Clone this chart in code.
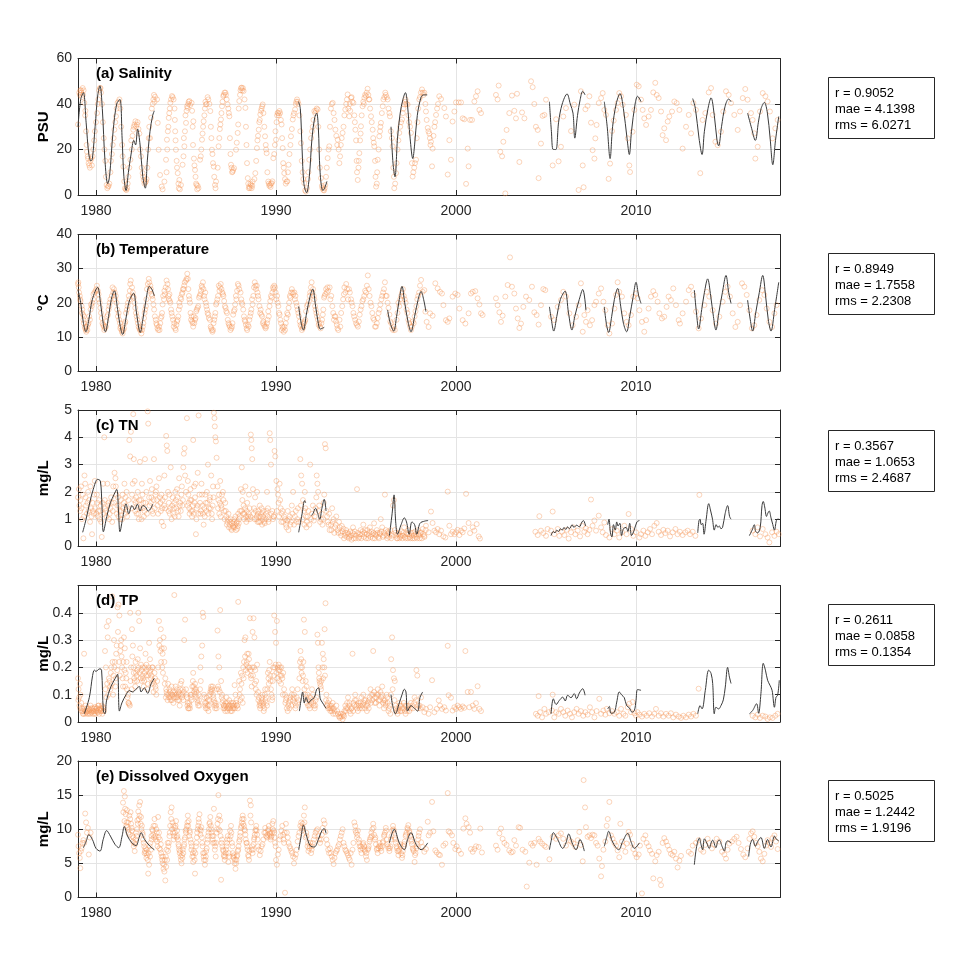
<!DOCTYPE html>
<html>
<head>
<meta charset="utf-8">
<script src="https://cdn.jsdelivr.net/npm/echarts@6/dist/echarts.min.js"></script>
<style>html,body{margin:0;padding:0;background:#fff}#chart{width:977px;height:977px}</style>
</head>
<body>
<div id="chart"></div>
<script>
// ---------------- DATA ----------------
const panelTitles = ['(a) Salinity', '(b) Temperature', '(c) TN', '(d) TP', '(e) Dissolved Oxygen'];
const yNames = ['PSU', '°C', 'mg/L', 'mg/L', 'mg/L'];
const yMaxs = [60, 40, 5, 0.5, 20];
const ySteps = [20, 10, 1, 0.1, 5];
const xTicks = [1980, 1990, 2000, 2010];
const xMin = 1979, xMax = 2018;
const statR = ['0.9052', '0.8949', '0.3567', '0.2611', '0.5025'];
const statMae = ['4.1398', '1.7558', '1.0653', '0.0858', '1.2442'];
const statRms = ['6.0271', '2.2308', '2.4687', '0.1354', '1.9196'];

// Salinity observations [year, PSU]
const salObs = [[1979.0,31],[1979.07,45],[1979.17,46],[1979.26,47],[1979.31,46],[1979.22,43],[1979.35,40.5],[1979.41,37],[1979.54,17],[1979.59,14],[1979.63,13],[1979.69,15],[1979.74,16],[1979.81,17],[1979.94,28],[1980.06,36],[1980.13,42],[1980.22,47],[1980.28,45],[1980.33,40],[1980.52,15],[1980.59,4.4],[1980.67,3.7],[1980.74,5],[1980.83,15],[1981.02,28.7],[1981.11,34.6],[1981.2,40.5],[1981.3,42],[1981.52,12.5],[1981.61,3],[1981.69,2.2],[1981.76,5],[1981.91,15.5],[1981.96,24],[1982.07,28.7],[1982.19,32.4],[1982.31,32],[1982.41,27],[1982.59,9.6],[1982.65,6.6],[1982.74,5.5],[1982.81,7],[1982.96,30],[1983.06,34],[1983.19,42],[1983.28,43.2],[1983.39,42],[1983.43,31.7],[1983.48,19.9],[1983.56,8.8],[1983.65,3.7],[1983.7,2.5],[1983.8,5.9],[1983.89,15.5],[1983.94,24.3],[1984.04,33.9],[1984.13,40.5],[1984.22,43.5],[1984.31,42],[1984.44,19.9],[1984.54,9.6],[1984.63,6.6],[1984.72,4.4],[1984.81,13.3],[1984.91,21.4],[1985.0,31.7],[1985.09,38.3],[1985.19,41.3],[1985.31,40.5],[1985.41,32.4],[1985.5,11],[1985.59,4.4],[1985.69,3],[1985.78,15.5],[1985.89,24.3],[1985.98,32.4],[1986.11,39.8],[1986.24,42],[1986.35,36.9],[1986.44,19.9],[1986.54,12.5],[1986.61,4.4],[1986.67,5.9],[1986.81,21.4],[1986.94,33.2],[1987.07,43.5],[1987.19,45],[1987.31,39.8],[1987.41,34.6],[1987.5,13.3],[1987.59,10.3],[1987.67,11.8],[1987.78,19.9],[1987.87,27.3],[1987.96,41.3],[1988.09,47.2],[1988.2,45.7],[1988.3,38.3],[1988.43,7.4],[1988.52,3.7],[1988.61,4.4],[1988.7,5.9],[1988.85,9.6],[1988.94,20.6],[1989.04,28.7],[1989.13,35.4],[1989.26,39.8],[1989.39,25.8],[1989.48,18.4],[1989.57,5.9],[1989.67,4.4],[1989.76,5.2],[1989.85,16.2],[1990.0,24.3],[1990.09,36.1],[1990.19,36.9],[1990.31,31],[1990.37,20.6],[1990.46,9.6],[1990.59,5.9],[1990.7,13.3],[1990.83,25.8],[1990.93,33.2],[1991.06,37.6],[1991.17,42],[1991.39,22.8],[1991.57,5.2],[1991.72,3],[1991.85,15.5],[1992.0,28],[1992.13,36.9],[1992.31,37.6],[1992.5,7.4],[1992.63,2.2],[1992.74,4.4],[1992.87,16.2],[1992.96,21.4],[1993.15,40.5],[1993.3,28.7],[1993.43,24.3],[1993.56,17],[1993.7,27.3],[1993.85,37.6],[1993.98,44.2],[1994.07,34.6],[1994.17,42.7],[1994.3,40.5],[1994.41,28.7],[1994.54,6.6],[1994.63,18.4],[1994.72,30.2],[1994.81,39],[1994.91,42.7],[1995.0,43.5],[1995.09,46.7],[1995.19,42],[1995.28,34.6],[1995.37,28.7],[1995.46,21.4],[1995.56,3.7],[1995.65,15.5],[1995.74,25.8],[1995.83,31.7],[1995.93,39],[1996.07,45],[1996.2,42],[1996.33,34.6],[1996.48,21.4],[1996.57,3],[1996.67,9.6],[1996.85,27.3],[1997.0,33.2],[1997.13,39.8],[1997.31,39.8],[1997.5,27.3],[1997.59,8.1],[1997.78,15.5],[1997.96,42],[1998.11,46.4],[1998.24,45],[1998.43,29.5],
[1998.33,36.7],[1998.52,27],[1998.61,23.4],[1998.7,20.4],[1998.67,12.6],[1998.89,35.2],[1999.07,43.4],[1999.17,42.2],[1999.35,38.2],[1999.44,34.5],[1999.54,9],[1999.63,24.1],[1999.72,15.5],[1999.81,32.3],[1999.91,36.7],[2000.0,40.7],[2000.15,40.7],[2000.28,40.7],[2000.37,33.7],[2000.46,33.3],[2000.56,4.9],[2000.65,20.4],[2000.7,12.6],[2000.78,33],[2000.89,33],[2001.02,41.1],[2001.11,43.4],[2001.2,45.6],[2001.3,37.4],[2001.39,36],[2002.22,44],[2002.31,42],[2002.37,48.1],[2002.46,19],[2002.56,17],[2002.63,23.4],[2002.74,0.7],[2002.81,28.6],[2002.96,36],[2003.11,43.7],[2003.24,37],[2003.33,33.7],[2003.39,44.5],[2003.52,14.5],[2003.67,36.3],[2003.8,33.7],[2004.17,50],[2004.26,47.4],[2004.35,40],[2004.44,30],[2004.54,28.6],[2004.59,7.4],[2004.72,22.6],[2004.81,34.8],[2004.91,35.2],[2005.0,41.9],[2005.37,13],[2005.56,33.3],[2005.7,14.8],[2005.83,21.2],[2005.96,34.5],[2006.11,38.2],[2006.39,28.1],[2006.57,39.7],[2006.81,2.2],[2006.94,45.6],[2007.04,13],[2007.09,3.4],[2007.19,37.7],[2007.31,39.2],[2007.41,43.4],[2007.5,31.8],[2007.59,19.7],[2007.69,16],[2007.74,24.9],[2007.81,30.8],[2007.93,40.4],[2008.06,42.6],[2008.15,44.8],[2008.24,37.4],[2008.33,35.2],[2008.48,7.1],[2008.56,13.8],[2008.67,28.1],[2008.76,32.7],[2008.89,37.4],[2008.98,40.4],[2009.07,44.8],[2009.17,43.4],[2009.26,39.7],[2009.44,35.2],[2009.54,24.9],[2009.63,13],[2009.67,10.1],[2009.81,27.8],[2009.91,37.4],[2010.04,48.5],[2010.15,47.8],[2010.28,41.9],[2010.37,37.4],[2010.46,33.7],[2010.56,30.8],[2010.7,34.5],[2010.83,37.4],[2010.96,45.1],[2011.07,49.3],[2011.15,44],[2011.26,42.6],[2011.39,36.7],[2011.48,26.3],[2011.57,29.3],[2011.67,24.1],[2011.76,32.3],[2011.85,34.5],[2012.0,36.7],[2012.13,41.1],[2012.26,40.4],[2012.41,37.4],[2012.59,20.4],[2012.78,30],[2012.93,35.2],[2013.06,27.1],[2013.19,40.4],[2013.33,37.4],[2013.57,9.6],[2013.7,33],[2013.85,36],[2014.04,45.1],[2014.17,47],[2014.26,35.2],[2014.41,23.4],[2014.54,21.9],[2014.72,27.8],[2014.85,36.7],[2015.0,45.6],[2015.15,44],[2015.28,40.4],[2015.46,35.2],[2015.65,28.6],[2015.78,36.7],[2015.93,42.6],[2016.07,46.6],[2016.2,41.9],[2016.39,36],[2016.48,33],[2016.57,27.1],[2016.63,16],[2016.76,21.2],[2016.89,36.7],[2017.04,44.8],[2017.19,43.4],[2017.31,41.1],[2017.44,36.7],[2017.59,24.9],[2017.74,29.3],[2017.87,33]];

// additional salinity observations (dense seasonal chains, 1979-1999)
const salObs2 = [[1979.1,44],[1979.13,46],[1979.19,45],[1979.28,44],[1979.4,35],[1979.45,28],[1979.48,22],[1979.5,19],[1979.56,16],[1979.66,12],[1979.77,13],[1979.85,20],[1979.9,24],[1980.0,32],[1980.1,40],[1980.18,46],[1980.25,47],[1980.38,32],[1980.43,25],[1980.47,20],[1980.55,8],[1980.63,3],[1980.7,4],[1980.8,10],[1980.88,18],[1980.93,22],[1980.98,25],[1981.07,32],[1981.15,38],[1981.25,41],[1981.35,38],[1981.4,30],[1981.45,22],[1981.48,17],[1981.57,6],[1981.65,2.5],[1981.73,3],[1981.8,8],[1981.85,12],[1981.99,20],[1982.03,26],[1982.1,30],[1982.14,31],[1982.23,30],[1982.27,31],[1982.36,29],[1982.45,20],[1982.5,17],[1982.54,12],[1982.62,8],[1982.69,5],[1982.77,6],[1982.85,12],[1982.9,20],[1982.93,25],
[1983.0,25],[1983.1,38],[1983.15,40],[1983.22,44],[1983.25,41],[1983.92,10],[1983.96,20],[1983.99,28],[1984.02,30],[1984.07,36],[1984.1,38],[1984.17,42],[1984.26,43],[1984.36,38],[1984.38,33],[1984.4,28],[1984.42,24],[1984.48,15],[1984.5,12],[1984.58,5],[1984.6,3],[1984.66,2.5],
[1984.86,17],[1984.88,25],[1984.94,28],[1984.97,35],[1985.03,37],[1985.06,39],[1985.12,40],[1985.15,41],[1985.23,39.5],[1985.34,37],[1985.37,30],[1985.39,22],[1985.44,16],[1985.47,13],[1985.53,8],[1985.56,5],[1985.62,2.5],[1985.65,4],
[1985.82,17],[1985.85,20],[1985.92,27],[1985.95,30],[1986.02,35],[1986.05,38],[1986.08,41],[1986.15,40],[1986.2,43],[1986.3,40],[1986.38,30],[1986.41,25],[1986.47,18],[1986.5,14],[1986.57,8],[1986.64,3],
[1986.76,12],[1986.85,25],[1986.88,29],[1986.91,31],[1986.97,36],[1987.0,39],[1987.03,41],[1987.1,44],[1987.14,45],[1987.22,44],[1987.26,42],[1987.35,38],[1987.38,36],[1987.44,25],[1987.47,18],[1987.53,12],[1987.56,10],[1987.62,11],
[1987.82,23],[1987.9,31],[1987.93,38],[1988.0,44],[1988.03,46],[1988.06,47],[1988.13,46],[1988.16,47],[1988.25,42],[1988.33,30],[1988.36,22],[1988.39,14],[1988.46,5],[1988.49,3],[1988.55,3],[1988.58,5],[1988.65,3],[1988.68,4],
[1988.8,7],[1988.9,15],[1988.97,24],[1989.0,26],[1989.07,32],[1989.1,33],[1989.17,37],[1989.2,38],[1989.23,39],[1989.3,36],[1989.35,30],[1989.43,22],[1989.45,20],[1989.52,10],[1989.6,5],[1989.63,4],[1989.7,3.5],[1989.72,5],[1989.8,6],
[1989.9,18],[1989.94,22],[1989.97,28],[1990.03,32],[1990.06,35],[1990.13,36],[1990.16,35],[1990.23,36],[1990.27,33],[1990.34,25],[1990.4,14],[1990.43,12],[1990.5,7],[1990.54,5],[1990.63,6],[1990.66,10],
[1990.75,18],[1990.8,22],[1990.88,29],[1990.97,35],[1991.0,36],[1991.1,40],[1991.13,41],[1991.21,41],[1991.25,40],[1991.3,35],[1991.35,28],[1991.43,15],[1991.48,10],[1991.52,7],[1991.62,2],[1991.66,1.5],[1991.77,7],[1991.8,10],
[1991.9,20],[1991.95,25],[1992.04,30],[1992.08,33],[1992.18,36],[1992.22,37],[1992.26,38],[1992.35,30],[1992.4,20],[1992.44,12],[1992.55,4],[1992.58,3],[1992.67,2],[1992.7,3],[1992.78,8],[1992.82,12],[1992.92,20],
[1993.0,30],[1993.05,38],[1993.1,40],[1993.2,36],[1993.25,33],[1993.35,26],[1993.4,22],[1993.48,20],[1993.52,14],[1993.6,22],[1993.65,25],[1993.75,30],[1993.8,35],[1993.9,40],[1993.94,42],
[1994.02,38],[1994.1,40],[1994.12,37],[1994.2,43],[1994.24,41],[1994.35,35],[1994.38,32],[1994.45,24],[1994.48,15],[1994.5,10],[1994.58,12],[1994.6,15],[1994.67,24],[1994.7,27],[1994.76,35],[1994.85,41],[1994.88,40],[1994.95,44],
[1995.04,45],[1995.13,44],[1995.16,42],[1995.23,38],[1995.32,32],[1995.4,25],[1995.43,23],[1995.5,15],[1995.53,8],[1995.6,5],[1995.62,10],[1995.7,20],[1995.78,28],[1995.8,30],[1995.88,36],[1995.97,42],[1996.02,43],
[1996.1,44],[1996.15,43],[1996.25,38],[1996.3,36],[1996.38,28],[1996.44,25],[1996.52,12],[1996.55,8],[1996.62,5],[1996.7,14],[1996.75,20],[1996.8,24],[1996.9,30],[1996.95,32],[1997.05,36],[1997.08,38],
[1997.17,41],[1997.2,42],[1997.25,40],[1997.36,35],[1997.4,32],[1997.45,30],[1997.55,14],[1997.63,10],[1997.68,12],[1997.72,14],[1997.82,25],[1997.86,32],[1997.9,38],[1998.0,43],
[1998.05,45],[1998.15,45],[1998.2,44],[1998.3,40],[1998.37,33],[1998.47,28],[1998.55,25],[1998.58,22],[1998.75,26],[1998.8,30],[1998.84,32],[1998.95,38],[1999.0,40]];

// Salinity model segments
const salModel = [
 [[1979.0,30],[1979.15,42],[1979.3,45],[1979.45,32],[1979.6,18],[1979.72,15],[1979.8,16],[1979.95,30],[1980.1,44],[1980.22,48],[1980.35,38],[1980.5,15],[1980.65,5],[1980.75,8],[1980.95,28],[1981.15,40],[1981.33,42],[1981.45,25],[1981.55,8],[1981.67,2],[1981.8,10],[1981.95,18],[1982.1,24],[1982.2,22],[1982.31,29],[1982.45,22],[1982.6,8],[1982.74,3],[1982.85,15],[1983.0,28],[1983.15,35],[1983.24,37]],
 [[1991.25,41],[1991.35,38],[1991.45,20],[1991.55,5],[1991.7,1],[1991.85,8],[1992.0,25],[1992.15,34],[1992.26,36],[1992.35,30],[1992.45,10],[1992.6,2],[1992.7,3],[1992.83,6]],
 [[1996.39,30],[1996.5,14],[1996.61,8],[1996.75,25],[1996.9,36],[1997.05,42],[1997.19,45],[1997.3,40],[1997.45,25],[1997.6,16],[1997.7,22],[1997.85,35],[1998.06,43],[1998.2,44],[1998.4,44]],
 [[2005.19,41],[2005.3,28],[2005.4,20],[2005.55,20],[2005.7,32],[2005.9,40],[2006.17,44.4],[2006.35,40],[2006.5,36],[2006.6,25],[2006.75,35],[2006.9,42],[2007.04,45.6],[2007.17,44]],
 [[2008.24,41],[2008.4,30],[2008.56,16],[2008.7,30],[2008.9,40],[2009.11,44.6],[2009.3,38],[2009.5,25],[2009.63,17.8],[2009.75,28],[2009.95,40],[2010.09,43.4],[2010.28,41]],
 [[2013.15,42.4],[2013.3,38],[2013.5,25],[2013.67,17.8],[2013.8,28],[2014.0,38],[2014.17,42.7],[2014.35,35],[2014.5,24],[2014.59,21.6],[2014.75,30],[2014.95,39],[2015.15,42.2],[2015.28,41]],
 [[2016.2,36],[2016.4,30],[2016.63,24],[2016.8,32],[2016.95,38],[2017.13,40.7],[2017.3,36],[2017.45,25],[2017.6,13.3],[2017.75,24],[2017.93,34.5]]
];

// Temperature observations [year, °C]
const tempObs = [[1979.0,25.5],[1979.02,26],[1979.04,24.5],[1979.1,22],[1979.12,21],[1979.2,19],[1979.22,17],[1979.3,15],[1979.32,14],[1979.34,16],[1979.44,12],[1979.46,11.5],[1979.48,13],[1979.58,14],[1979.62,16],[1979.7,18],[1979.72,19.5],[1979.84,21],[1979.86,22.5],[1979.98,23.5],[1980.02,24],[1980.14,22.5],[1980.16,21],[1980.28,17],[1980.32,15.5],[1980.44,13],[1980.46,12],[1980.58,14.5],[1980.62,16],[1980.74,19],[1980.76,20],[1980.88,22],[1980.92,24.5],[1981.04,23],[1981.06,21],[1981.18,18],[1981.22,16],[1981.33,14],[1981.35,12.5],[1981.37,13],[1981.48,11],[1981.52,12],[1981.63,14.5],[1981.67,17],[1981.78,20],[1981.82,22],[1981.88,23.5],[1981.9,25.5],[1981.93,26.5],[1982.04,23],[1982.06,22],[1982.18,18.5],[1982.22,17],[1982.33,14],[1982.37,13],[1982.48,12],[1982.52,11],[1982.63,14],[1982.67,15.5],[1982.77,19],[1982.8,21],[1982.83,24],[1982.93,27],[1982.96,26],[1982.99,23.5],[1983.08,22.5],[1983.12,22],[1983.23,18],[1983.27,16],[1983.38,13.5],[1983.42,12.5],[1983.53,12],[1983.57,14],[1983.67,17],[1983.7,19.5],[1983.73,22],[1983.83,22.5],[1983.87,24.5],[1983.97,25.5],[1984.0,24],[1984.03,22],[1984.05,21],[1984.13,20],[1984.17,18],[1984.28,15],[1984.32,13],[1984.43,12],[1984.47,13.5],[1984.57,16],[1984.6,18],[1984.63,20],[1984.73,21],[1984.77,22.5],[1984.87,24],[1984.9,25],[1984.93,26],[1985.07,28.5],[1985.1,27],[1985.13,24],[1985.22,20],[1985.25,17],[1985.28,15],[1985.37,14],[1985.4,13],[1985.43,16],[1985.53,15.5],[1985.57,17.5],[1985.68,19],[1985.72,21.5],[1985.83,23.5],[1985.87,25],[1985.97,24],[1986.0,22],[1986.03,21],[1986.13,19],[1986.17,18],[1986.33,15],[1986.37,13],[1986.47,11.5],[1986.5,12],[1986.53,14],[1986.63,17],[1986.67,19.5],[1986.78,22],[1986.82,25],[1986.93,25.5],[1986.97,24],[1987.08,22],[1987.12,20.5],[1987.28,17],[1987.32,15],[1987.43,13],[1987.47,12],[1987.58,14],[1987.62,16.5],[1987.73,19.5],[1987.77,22],[1987.88,25.5],[1987.92,25],[1988.03,23],[1988.07,21],[1988.18,18],[1988.22,16],[1988.33,13.5],[1988.37,12.5],[1988.48,13],[1988.52,15],[1988.63,18],[1988.67,21],[1988.78,24.5],[1988.82,26],[1988.93,25],[1988.97,23],[1989.08,19],[1989.12,17],[1989.23,16],[1989.27,14],[1989.38,13],[1989.42,12.5],[1989.53,15],[1989.57,17.5],[1989.68,20.5],[1989.72,22],[1989.83,24.5],[1989.87,24],[1989.98,23],[1990.02,21],[1990.13,19],[1990.17,17],[1990.28,14],[1990.32,12],[1990.43,11.5],[1990.47,13],[1990.58,15.5],[1990.62,17],[1990.73,20],[1990.77,22],[1990.88,24],[1990.92,23],[1991.08,22],[1991.12,20],[1991.28,16],[1991.32,14.5],[1991.48,12.5],[1991.52,13],[1991.63,15],[1991.67,17.5],[1991.83,20.5],[1991.87,22],[1991.98,26],[1992.02,23],[1992.13,21],[1992.17,19],[1992.33,15],[1992.37,13.5],[1992.48,12.5],[1992.52,14],[1992.63,18],[1992.67,21.5],[1992.78,24],[1992.82,23],[1992.98,24.5],[1993.02,21],[1993.18,17],[1993.22,15],[1993.38,13.5],[1993.42,12.5],[1993.53,15],[1993.57,13],[1993.73,21],[1993.77,22.5],[1993.8,24.5],[1993.95,24],[1994.1,23],[1994.25,19],[1994.4,15],[1994.5,13.5],[1994.6,14.5],[1994.75,19],[1994.9,22],[1995.05,25],[1995.1,28],[1995.2,22],[1995.35,17],[1995.5,13],[1995.6,14],[1995.75,18],[1995.9,22],[1996.05,26],[1996.2,20],[1996.3,16.5],[1996.45,12.5],[1996.6,12],[1996.75,17],[1996.9,21],[1997.05,24],[1997.2,20],[1997.35,15],[1997.5,12],[1997.65,14],[1997.8,19],[1997.95,23],[1993.3,16],[1994.0,21],[1994.3,17],[1994.55,13],[1994.85,21],[1995.0,23],[1995.25,20],[1995.45,15],[1995.55,13],[1995.85,21],[1996.0,24],[1996.1,22],[1996.4,14],[1996.85,19],[1997.0,23],[1997.3,17],[1997.45,13],[1997.7,16],[1997.85,21],
[1998.06,26.7],[1998.15,23.2],[1998.24,23.7],[1998.3,17.4],[1998.37,14.4],[1998.48,12.9],[1998.56,16.9],[1998.7,16.2],[1998.85,25.7],[1998.98,24.2],[1999.11,23.2],[1999.22,22.7],[1999.3,19.3],[1999.44,14.9],[1999.54,14.4],[1999.63,15.4],[1999.81,21.8],[1999.96,22.7],[2000.09,22.3],[2000.19,18.3],[2000.37,14.9],[2000.52,13.9],[2000.7,16.9],[2000.83,22.7],[2000.93,23.2],[2001.07,23.4],[2001.2,21.3],[2001.3,19.5],[2001.39,16.9],[2001.48,16.4],[2002.22,21.3],[2002.31,19.3],[2002.41,17.2],[2002.5,14.4],[2002.59,16.2],[2002.74,21.8],[2002.87,25.2],[2003.0,33.3],[2003.11,24.7],[2003.24,22.7],[2003.33,18.3],[2003.43,15.4],[2003.52,12.6],[2003.61,13.9],[2003.74,18.8],[2003.89,21.8],[2004.07,20.8],[2004.22,24.7],[2004.35,17.2],[2004.48,16.4],[2004.59,13.6],[2004.72,19.3],[2004.85,24],[2004.96,23.7],[2005.28,15.9],[2005.46,14.9],[2005.65,18.8],[2005.83,20.8],[2005.96,23.2],[2006.11,21.8],[2006.3,16.9],[2006.48,13.4],[2006.67,15.9],[2006.81,19.3],[2006.94,25.7],[2007.04,11.5],[2007.13,16.4],[2007.22,14.4],[2007.31,17.8],[2007.44,13.4],[2007.56,14.9],[2007.69,19.3],[2007.78,20.3],[2007.93,22.7],[2008.06,24.2],[2008.19,20.3],[2008.3,17.8],[2008.43,13.4],[2008.52,11],[2008.67,13.9],[2008.8,18.3],[2008.89,22.3],[2008.98,26],[2009.07,23.2],[2009.22,21.8],[2009.35,16.9],[2009.48,14.4],[2009.59,13.4],[2009.72,16.4],[2009.85,21.8],[2010.0,22.7],[2010.09,21.3],[2010.19,17.8],[2010.33,14.4],[2010.46,11.5],[2010.56,14.9],[2010.7,18.3],[2010.83,21.8],[2010.96,23.4],[2011.07,22.3],[2011.2,20.3],[2011.3,16.9],[2011.44,15.4],[2011.57,15.9],[2011.7,18.8],[2011.81,21.8],[2011.94,20.8],[2012.07,24.2],[2012.22,19.3],[2012.37,14.9],[2012.44,13.9],[2012.59,16.9],[2012.78,20.3],[2012.93,23.7],[2013.06,24.7],[2013.19,22.3],[2013.33,17.4],[2013.48,12.5],[2013.61,15.4],[2013.8,19.3],[2013.93,23.2],[2014.07,21.8],[2014.26,17.8],[2014.44,13.9],[2014.63,15.9],[2014.81,20.3],[2014.96,23.2],[2015.09,24.7],[2015.22,21.8],[2015.37,16.9],[2015.52,12.9],[2015.65,14.4],[2015.78,19.3],[2015.89,25.7],[2016.02,24.7],[2016.15,22.3],[2016.3,17.8],[2016.44,12.5],[2016.57,13.4],[2016.7,16.4],[2016.85,20.8],[2017.0,23.7],[2017.13,22.3],[2017.26,18.3],[2017.41,14.4],[2017.56,12.9],[2017.69,16.9],[2017.81,19.3]];

// additional temperature observations (dense band, 1979-1998)
const tempObs2 = [[1979.06,23],[1979.14,20.5],[1979.24,18],[1979.28,16.5],[1979.38,13],[1979.4,12.5],[1979.52,12],[1979.55,13.5],[1979.66,15],[1979.76,19],[1979.8,20],[1979.92,23],
[1980.05,25],[1980.1,23.5],[1980.2,20],[1980.24,18.5],[1980.36,14],[1980.4,13.5],[1980.5,12.5],[1980.55,13],[1980.66,16.5],[1980.7,18],[1980.8,21],[1980.96,23],
[1981.0,24],[1981.1,22],[1981.14,20],[1981.26,17],[1981.29,15],[1981.42,12],[1981.44,11.5],[1981.56,12.5],[1981.6,14],[1981.72,18],[1981.75,19],[1981.86,21],
[1982.0,24.5],[1982.1,21.5],[1982.14,20],[1982.26,16],[1982.3,15],[1982.41,12.5],[1982.44,12],[1982.56,12],[1982.6,13],[1982.7,17],[1982.73,18],[1982.88,25.5],
[1983.02,25],[1983.05,24],[1983.15,21],[1983.19,19.5],[1983.32,15],[1983.35,14],[1983.46,12],[1983.5,13],[1983.6,15.5],[1983.64,16],[1983.78,21],[1983.8,23.5],[1983.92,26.5],
[1984.08,22.5],[1984.1,20.5],[1984.2,17],[1984.24,16],[1984.35,14],[1984.4,12.5],[1984.5,14.5],[1984.53,15],[1984.66,19],[1984.7,21.5],[1984.8,23],[1984.83,24],
[1985.0,26.5],[1985.03,27],[1985.16,22],[1985.19,21],[1985.31,16],[1985.34,14.5],[1985.46,14],[1985.5,15],[1985.6,18],[1985.64,18.5],[1985.76,22],[1985.8,22.5],[1985.9,24.5],[1985.94,26],
[1986.07,23],[1986.1,20],[1986.2,17],[1986.24,16.5],[1986.27,15.5],[1986.4,12.5],[1986.43,12],[1986.57,15],[1986.6,16],[1986.7,20],[1986.74,21],[1986.86,23.5],[1986.89,24.5],
[1987.02,23],[1987.05,22.5],[1987.16,19],[1987.2,18.5],[1987.24,17.5],[1987.36,14],[1987.4,13.5],[1987.52,12.5],[1987.55,13],[1987.66,17.5],[1987.7,18],[1987.8,21],[1987.84,23.5],[1987.96,24],
[1988.1,20],[1988.13,19.5],[1988.26,15],[1988.29,14.5],[1988.4,12],[1988.44,13.5],[1988.56,16],[1988.6,17],[1988.7,19.5],[1988.74,22],[1988.86,25],[1988.89,24],
[1989.0,22],[1989.03,21],[1989.15,18],[1989.19,16.5],[1989.3,14.5],[1989.34,13.5],[1989.46,13],[1989.5,14],[1989.6,16],[1989.64,19],[1989.76,21.5],[1989.8,23],[1989.9,25],[1989.94,24.5],
[1990.06,22],[1990.09,20],[1990.2,16.5],[1990.24,15],[1990.36,13],[1990.39,12.5],[1990.5,12],[1990.54,14],[1990.66,16.5],[1990.7,18.5],[1990.8,21.5],[1990.84,23],[1990.96,22.5],
[1991.02,23],[1991.05,21],[1991.16,19],[1991.2,18],[1991.24,17],[1991.36,13.5],[1991.4,13],[1991.44,12],[1991.56,14],[1991.6,14.5],[1991.72,19],[1991.76,19.5],[1991.9,23],[1991.94,24.5],
[1992.06,24],[1992.1,22],[1992.2,18],[1992.24,17],[1992.28,16],[1992.4,14],[1992.44,13],[1992.56,15],[1992.6,16.5],[1992.7,22],[1992.74,22.5],[1992.86,24.5],[1992.9,23.5],
[1993.07,22],[1993.13,19],[1993.26,16],[1993.34,14.5],[1993.46,12],[1993.62,17],[1993.68,19],[1993.86,23],[1993.9,25.5],[1994.05,24],[1994.17,21],[1994.2,20],[1994.34,16],[1994.45,14],[1994.65,16.5],[1994.7,18],[1994.8,20.5],[1994.95,23.5],[1995.15,24],[1995.3,19],[1995.4,15.5],[1995.65,15.5],[1995.7,17],[1995.8,19.5],[1995.95,23],[1996.15,22],[1996.25,18.5],[1996.35,14.5],[1996.5,12],[1996.55,13],[1996.7,15],[1996.8,20],[1996.95,22],[1997.1,22],[1997.15,21],[1997.25,18],[1997.4,14],[1997.55,13],[1997.6,14.5],[1997.75,17.5],[1997.9,22],[1998.0,25]];

const tempModel = [
 [[1979.0,23.8],[1979.15,20],[1979.3,14],[1979.44,11.5],[1979.6,15],[1979.8,21],[1980.09,24.5],[1980.25,20],[1980.4,14],[1980.52,11.5],[1980.7,16],[1980.85,21],[1981.02,23.5],[1981.2,18],[1981.35,13],[1981.48,10.7],[1981.65,15],[1981.85,20.5],[1982.09,22.8],[1982.25,17],[1982.46,11.3],[1982.6,15],[1982.8,21.5],[1982.96,24.8],[1983.1,24],[1983.24,22]],
 [[1991.26,18.9],[1991.4,14],[1991.52,12],[1991.7,17],[1991.9,22],[1992.04,24],[1992.2,19],[1992.35,14],[1992.46,12.3],[1992.68,12.8]],
 [[1996.2,17.9],[1996.35,14],[1996.54,11.7],[1996.7,16],[1996.85,21],[1997.0,24.8],[1997.15,20],[1997.35,14],[1997.5,11.5],[1997.7,16],[1997.9,21],[1998.06,23.3],[1998.2,21],[1998.33,17.4]],
 [[2005.19,18.8],[2005.3,15],[2005.43,11.7],[2005.6,16],[2005.8,21],[2006.06,23.4],[2006.25,17],[2006.44,12],[2006.6,16],[2006.85,21],[2007.04,23.9],[2007.22,17.8]],
 [[2008.24,18.8],[2008.35,14],[2008.48,11.3],[2008.65,16],[2008.8,21],[2008.98,24.2],[2009.15,19],[2009.3,14],[2009.48,11.5],[2009.65,16],[2009.85,22],[2010.0,26],[2010.15,22],[2010.28,19.8]],
 [[2013.24,23.7],[2013.36,17],[2013.48,12.3],[2013.65,18],[2013.8,23],[2013.98,27],[2014.15,22],[2014.3,16],[2014.44,12],[2014.6,17],[2014.8,23],[2015.0,28],[2015.15,23],[2015.28,19.8]],
 [[2016.2,20.8],[2016.35,15],[2016.48,11.7],[2016.65,17],[2016.85,23],[2017.04,28],[2017.2,22],[2017.35,15],[2017.5,11.7],[2017.7,18],[2017.93,26]]
];

// TN observations [year, mg/L]
const tnObs = [[1979.0,1.8],[1979.05,2.1],[1979.08,1.5],[1979.12,1.3],[1979.17,2.2],[1979.22,1.0],[1979.27,1.9],[1979.3,0.3],[1979.36,2.6],[1979.4,2.3],[1979.45,1.5],[1979.5,1.2],[1979.56,2.0],[1979.62,1.7],[1979.67,0.9],[1979.72,1.4],[1979.78,0.45],[1979.84,1.3],[1979.9,1.9],[1979.95,1.4],[1980.02,1.2],[1980.07,1.6],[1980.13,1.3],[1980.2,1.0],[1980.26,1.5],[1980.32,0.35],[1980.4,2.3],[1980.46,4.0],[1980.52,1.4],[1980.58,1.1],[1980.63,2.3],[1980.7,1.6],[1980.76,1.2],[1980.84,1.8],[1980.9,0.9],[1980.96,2.2],[1981.03,2.7],[1981.08,2.5],[1981.13,1.9],[1981.19,1.5],[1981.25,1.1],[1981.31,1.3],[1981.38,1.7],[1981.45,1.0],[1981.52,1.4],[1981.58,2.3],[1981.64,1.8],[1981.7,2.0],[1981.77,1.3],[1981.85,3.9],[1981.9,3.3],[1981.94,4.2],[1982.0,1.9],[1982.07,4.85],[1982.1,3.2],[1982.15,2.4],[1982.2,1.6],[1982.26,1.2],[1982.32,2.0],[1982.38,1.0],[1982.44,3.1],[1982.5,1.7],[1982.55,2.3],[1982.6,1.4],[1982.66,1.1],[1982.72,3.2],[1982.8,2.0],[1982.87,4.95],[1982.9,4.5],[1982.95,1.8],[1983.0,2.4],[1983.05,1.6],[1983.1,2.1],[1983.17,1.2],[1983.22,3.2],[1983.3,1.9],[1983.36,2.2],[1983.42,1.5],[1983.5,2.5],[1983.55,1.8],[1983.6,1.3],[1983.65,0.9],[1983.7,1.7],[1983.75,0.75],[1983.8,2.6],[1983.85,1.4],[1983.9,4.05],[1983.93,3.7],[1983.96,3.5],[1984.0,2.0],[1984.05,1.6],[1984.1,1.2],[1984.15,2.9],[1984.2,1.0],[1984.26,1.8],[1984.32,1.4],[1984.38,1.1],[1984.44,1.7],[1984.5,2.1],[1984.56,1.3],[1984.62,2.5],[1984.68,1.6],[1984.74,1.9],[1984.8,1.5],[1984.85,2.9],[1984.88,3.4],[1984.92,3.6],[1984.95,2.6],[1985.0,2.0],[1985.05,4.7],[1985.1,2.4],[1985.15,1.6],[1985.2,1.2],[1985.25,2.1],[1985.3,1.7],[1985.35,1.3],[1985.4,3.9],[1985.45,2.2],[1985.5,1.8],[1985.55,0.45],[1985.6,1.4],[1985.65,2.7],[1985.7,4.8],[1985.75,1.9],[1985.8,1.2],[1985.86,2.3],[1985.92,1.5],[1985.98,0.8],[1986.04,1.1],[1986.1,1.6],[1986.16,2.0],[1986.22,3.0],[1986.28,1.4],[1986.34,1.8],[1986.4,2.6],[1986.45,1.0],[1986.5,2.2],[1986.55,4.9],[1986.58,4.7],[1986.6,4.4],[1986.63,4.0],[1986.66,3.85],[1986.7,3.25],[1986.75,2.2],[1986.8,1.7],[1986.85,1.2],[1986.9,2.4],[1986.95,1.5],[1987.0,1.9],[1987.05,2.0],[1987.12,1.3],[1987.18,1.6],[1987.24,1.1],[1987.3,0.9],[1987.36,1.2],[1987.42,0.8],[1987.48,1.0],[1987.54,0.6],[1987.6,0.75],[1987.65,0.9],[1987.7,0.7],[1987.75,1.1],[1987.8,0.85],[1987.85,0.65],[1987.9,1.2],[1987.95,1.0],[1988.0,1.3],[1988.05,2.1],[1988.1,2.9],[1988.15,2.0],[1988.2,1.5],[1988.25,1.2],[1988.3,2.2],[1988.35,0.9],[1988.4,1.6],[1988.45,1.1],[1988.5,1.9],[1988.55,1.0],[1988.6,4.1],[1988.63,3.9],[1988.65,3.6],[1988.68,3.2],[1988.72,2.1],[1988.78,1.4],[1988.84,1.8],[1988.9,1.0],[1988.95,2.0],[1989.0,1.2],[1989.05,0.9],[1989.1,1.5],[1989.15,1.1],[1989.2,1.4],[1989.25,1.0],[1989.3,1.3],[1989.38,0.85],[1989.45,1.2],[1989.5,2.0],[1989.55,1.4],[1989.6,1.0],[1989.65,4.15],[1989.68,3.9],[1989.72,3.0],[1989.8,1.3],[1989.86,1.1],[1989.92,3.5],[1989.96,3.3],[1990.02,2.4],[1990.08,2.1],[1990.14,1.6],[1990.2,2.3],[1990.26,1.4],[1990.32,1.2],[1990.4,0.9],[1990.5,1.0],[1990.58,0.7],[1990.65,1.3],[1990.72,1.0],[1990.8,0.8],[1990.88,1.5],[1990.95,2.0],[1991.05,1.1],[1991.15,0.9],[1991.22,1.4],[1991.35,3.2],[1991.4,2.6],[1991.45,2.3],[1991.5,1.7],[1991.55,1.3],[1991.6,2.0],[1991.66,1.1],[1991.72,0.9],[1991.8,1.3],[1991.9,3.0],[1992.0,1.2],[1992.1,0.95],[1992.2,1.4],[1992.26,2.6],[1992.3,2.3],[1992.34,2.0],[1992.4,1.5],[1992.5,1.0],[1992.58,0.8],[1992.65,1.6],[1992.72,3.75],[1992.76,3.6],[1992.8,1.3],[1992.88,0.9],[1992.95,1.2],[1993.05,0.8],[1993.12,1.4],[1993.2,1.0],[1993.28,0.7],[1993.35,1.1],[1993.42,0.6],[1993.5,0.9],[1993.58,0.5],[1993.66,0.75],[1993.75,0.65],[1993.82,0.4],[1993.9,0.6],[1993.98,0.5],[1994.05,0.3],[1994.12,0.55],[1994.2,0.25],[1994.28,0.7],[1994.35,0.45],[1994.42,0.3],[1994.5,2.1],[1994.55,0.5],[1994.62,0.35],[1994.7,0.6],[1994.78,0.45],[1994.85,0.8],[1994.92,0.5],[1995.0,0.3],[1995.08,0.6],[1995.15,0.4],[1995.22,0.7],[1995.3,0.55],[1995.38,0.3],[1995.45,0.85],[1995.52,0.45],[1995.6,0.6],[1995.68,0.35],[1995.75,0.5],[1995.82,1.0],[1995.9,0.7],[1995.98,0.4],[1996.05,1.9],[1996.1,0.6],[1996.18,0.3],[1996.25,0.5],[1996.32,0.45],[1996.4,0.3],[1996.5,1.5],[1996.55,1.7],[1996.6,0.6],[1996.68,0.4],[1996.75,0.3],[1996.82,0.5],[1996.9,0.35],[1996.98,0.55],[1997.05,0.4],[1997.12,0.7],[1997.2,0.3],[1997.28,0.45],[1997.35,0.6],[1997.42,0.35],[1997.5,0.5],[1997.58,0.3],[1997.65,0.4],[1997.72,0.55],[1997.8,0.35],[1997.88,0.6],[1997.95,0.4],[1998.02,0.5],[1998.1,0.3],[1998.18,0.45],[1998.25,0.35],[1998.32,0.6],
[1998.06,0.52],[1998.15,0.64],[1998.24,0.39],[1998.33,0.76],[1998.48,0.52],[1998.61,1.28],[1998.7,0.86],[1998.8,0.58],[1998.89,0.52],[1998.98,0.64],[1999.07,0.45],[1999.17,0.58],[1999.3,0.37],[1999.41,0.33],[1999.54,2.01],[1999.63,0.76],[1999.72,0.45],[1999.81,0.54],[1999.91,0.45],[2000.0,0.52],[2000.09,0.61],[2000.19,0.42],[2000.28,0.58],[2000.37,0.52],[2000.46,0.66],[2000.56,1.93],[2000.7,0.86],[2000.78,0.49],[2000.93,0.7],[2001.02,0.58],[2001.15,0.82],[2001.26,0.37],[2001.33,0.29],[2004.41,0.54],[2004.54,0.42],[2004.63,1.11],[2004.72,0.58],[2004.85,0.49],[2005.0,0.39],[2005.09,0.64],[2005.28,0.58],[2005.37,1.28],[2005.46,0.45],[2005.65,0.64],[2005.74,0.39],[2005.89,0.54],[2006.02,0.42],[2006.15,0.61],[2006.26,0.29],[2006.39,0.52],[2006.52,0.7],[2006.63,0.45],[2006.76,0.58],[2006.89,0.37],[2007.0,0.76],[2007.13,0.54],[2007.22,0.66],[2007.31,0.45],[2007.41,0.61],[2007.5,1.72],[2007.59,0.76],[2007.69,0.95],[2007.78,0.58],[2007.93,1.13],[2008.06,0.7],[2008.15,0.52],[2008.24,0.88],[2008.33,0.42],[2008.52,0.33],[2008.67,0.64],[2008.8,0.45],[2008.93,0.58],[2009.07,0.33],[2009.22,0.52],[2009.35,0.76],[2009.48,0.45],[2009.59,1.19],[2009.72,0.64],[2009.85,0.39],[2010.0,0.52],[2010.19,0.33],[2010.28,0.45],[2010.41,0.58],[2010.52,0.39],[2010.65,0.52],[2010.78,0.64],[2010.89,0.45],[2011.02,0.76],[2011.15,0.86],[2011.26,0.54],[2011.39,0.42],[2011.52,0.61],[2011.63,0.49],[2011.76,0.58],[2011.89,0.37],[2012.04,0.52],[2012.19,0.64],[2012.31,0.45],[2012.44,0.54],[2012.59,0.42],[2012.74,0.52],[2012.87,0.58],[2013.0,0.45],[2013.15,0.54],[2013.3,0.39],[2013.52,1.89],[2016.48,0.58],[2016.63,0.45],[2016.76,0.7],[2016.89,0.37],[2017.04,0.64],[2017.19,0.45],[2017.31,0.33],[2017.41,0.15],[2017.56,0.52],[2017.69,0.39],[2017.81,0.54],[2017.93,0.45]];

// additional TN observations (dense 1979-1998)
const tnObs2 = [[1979.13,1.7],[1979.19,1.4],[1979.33,1.1],[1979.42,1.8],[1979.53,1.6],[1979.59,1.3],[1979.69,2.2],[1979.75,1.1],[1979.81,1.6],[1979.87,1.2],[1979.93,2.4],[1980.05,1.9],[1980.1,1.1],[1980.17,1.7],[1980.23,1.3],[1980.29,0.9],[1980.37,1.6],[1980.43,1.2],[1980.49,1.7],[1980.55,1.3],[1980.66,1.5],[1980.73,1.0],[1980.8,1.4],[1980.87,1.6],[1980.93,1.3],[1981.0,1.6],[1981.1,2.2],[1981.16,1.2],[1981.22,1.8],[1981.28,1.5],[1981.34,1.0],[1981.42,1.3],[1981.48,1.9],[1981.55,1.6],[1981.61,1.2],[1981.67,1.5],[1981.73,1.1],[1981.8,1.7],[1981.97,1.4],[1982.04,2.3],[1982.12,1.7],[1982.18,1.3],[1982.23,1.8],[1982.29,1.5],[1982.35,1.2],[1982.41,1.7],[1982.47,1.4],[1982.53,1.0],[1982.58,1.9],[1982.63,1.6],[1982.69,1.3],[1982.75,1.6],[1982.83,1.2],[1982.98,1.5],[1983.08,1.8],[1983.13,1.3],[1983.2,1.7],[1983.26,1.4],[1983.33,2.0],[1983.39,1.7],[1983.45,1.2],[1983.58,1.6],[1983.63,1.9],[1983.68,1.4],[1983.78,1.5],[1983.83,1.8],[1984.03,1.3],[1984.08,1.9],[1984.13,1.4],[1984.23,1.5],[1984.29,1.2],[1984.35,1.6],[1984.41,2.0],[1984.47,1.4],[1984.53,1.8],[1984.59,1.1],[1984.65,1.5],[1984.71,1.3],[1984.77,2.2],[1984.83,1.7],[1985.08,1.5],[1985.13,1.9],[1985.18,1.4],[1985.23,1.7],[1985.28,1.3],[1985.33,1.1],[1985.38,1.5],[1985.43,1.2],[1985.48,1.6],[1985.53,2.3],[1985.58,1.0],[1985.63,1.5],[1985.68,1.2],[1985.78,1.6],[1985.84,1.3],[1985.89,1.9],[1985.95,1.2],[1986.02,1.4],[1986.07,1.9],[1986.13,1.3],[1986.19,1.6],[1986.25,1.2],[1986.31,1.7],[1986.37,1.4],[1986.43,1.2],[1986.48,1.5],[1986.53,1.8],[1986.78,1.4],[1986.83,1.9],[1986.88,1.6],[1986.93,1.1],[1986.98,1.4],[1987.08,1.7],[1987.15,1.0],[1987.21,1.3],[1987.27,0.8],[1987.33,1.0],[1987.39,0.7],[1987.45,0.9],[1987.51,0.65],[1987.57,0.85],[1987.63,0.7],[1987.68,1.0],[1987.73,0.8],[1987.78,0.6],[1987.83,0.9],[1987.88,0.75],[1987.93,0.85],[1987.98,1.1],[1988.08,1.3],[1988.13,1.7],[1988.18,1.2],[1988.23,1.0],[1988.28,1.4],[1988.33,1.1],[1988.38,1.3],[1988.43,1.0],[1988.48,1.2],[1988.53,1.4],[1988.58,1.1],[1988.75,1.2],[1988.81,1.0],[1988.87,1.3],[1988.93,1.1],[1988.98,0.9],[1989.03,1.3],[1989.08,1.1],[1989.13,0.9],[1989.18,1.2],[1989.23,0.8],[1989.28,1.1],[1989.33,0.9],[1989.43,1.0],[1989.48,1.3],[1989.53,1.1],[1989.58,0.9],[1989.75,1.2],[1989.83,1.0],[1989.88,1.1],[1990.05,1.3],[1990.11,1.9],[1990.17,1.1],[1990.23,1.7],[1990.3,0.9],[1990.36,1.3],[1990.45,1.1],[1990.55,0.8],[1990.62,0.95],[1990.69,0.6],[1990.76,1.1],[1990.84,0.9],[1990.92,1.2],[1991.0,0.8],[1991.1,1.3],[1991.18,1.0],[1991.28,0.9],[1991.38,1.5],[1991.48,1.0],[1991.58,0.8],[1991.63,1.4],[1991.69,0.7],[1991.76,1.1],[1991.85,0.8],[1991.95,1.0],[1992.05,1.5],[1992.15,1.1],[1992.24,1.8],[1992.37,1.3],[1992.45,0.9],[1992.53,1.2],[1992.62,1.0],[1992.68,1.9],[1992.84,1.1],[1992.92,0.8],[1992.98,0.6],
[1993.08,0.6],[1993.16,0.9],[1993.24,0.5],[1993.32,0.8],[1993.46,0.5],[1993.54,0.7],[1993.62,0.4],[1993.7,0.55],[1993.78,0.3],[1993.86,0.5],[1993.94,0.35],[1994.02,0.45],[1994.09,0.35],[1994.16,0.4],[1994.24,0.5],[1994.31,0.3],[1994.38,0.55],[1994.46,0.4],[1994.59,0.3],[1994.66,0.45],[1994.74,0.3],[1994.81,0.55],[1994.89,0.35],[1994.96,0.6],[1995.04,0.45],[1995.12,0.3],[1995.19,0.5],[1995.26,0.35],[1995.34,0.45],[1995.42,0.5],[1995.49,0.3],[1995.56,0.4],[1995.64,0.5],[1995.72,0.3],[1995.79,0.45],[1995.86,0.55],[1995.94,0.35],[1996.02,0.5],[1996.14,0.4],[1996.21,0.55],[1996.28,0.35],[1996.36,0.6],[1996.44,0.4],[1996.64,0.5],[1996.71,0.3],[1996.78,0.45],[1996.86,0.3],[1996.94,0.4],[1997.02,0.3],[1997.08,0.5],[1997.16,0.35],[1997.24,0.5],[1997.32,0.3],[1997.38,0.45],[1997.46,0.3],[1997.54,0.4],[1997.62,0.5],[1997.68,0.3],[1997.76,0.45],[1997.84,0.3],[1997.92,0.45],[1997.98,0.3]];

const tnModel = [
 [[1979.26,0.52],[1979.45,1.0],[1979.65,1.6],[1979.85,2.1],[1980.09,2.46],[1980.24,2.4],[1980.33,1.5],[1980.41,0.54],[1980.6,1.1],[1980.8,1.6],[1981.0,1.9],[1981.15,2.09],[1981.25,1.3],[1981.33,0.54],[1981.5,1.1],[1981.67,1.56],[1981.82,1.2],[1982.0,1.5],[1982.15,1.35],[1982.3,1.55],[1982.45,1.3],[1982.6,1.5],[1982.75,1.45],[1982.9,1.3],[1983.05,1.4],[1983.15,1.55]],
 [[1991.26,0.52],[1991.45,1.2],[1991.59,1.68],[1991.65,1.6]],
 [[1991.96,1.13],[1992.05,1.2],[1992.2,1.4],[1992.3,1.25],[1992.43,1.0],[1992.55,1.4],[1992.68,1.73],[1992.78,1.3]],
 [[1996.3,0.4],[1996.45,1.2],[1996.56,1.89],[1996.65,0.9],[1996.75,0.45],[1996.95,0.8],[1997.13,1.05],[1997.25,0.9],[1997.4,0.45],[1997.55,0.9],[1997.7,0.8],[1997.82,0.45],[1998.0,0.85],[1998.26,0.93],[1998.45,0.95]],
 [[2005.28,0.4],[2005.4,0.55],[2005.5,0.5],[2005.6,0.6],[2005.7,0.55],[2005.8,0.65],[2005.9,0.6],[2006.0,0.7],[2006.1,0.62],[2006.2,0.72],[2006.3,0.65],[2006.45,0.8],[2006.55,0.7],[2006.7,0.78],[2006.85,0.72],[2007.0,0.9],[2007.08,0.95],[2007.2,0.75]],
 [[2008.43,0.8],[2008.5,1.0],[2008.58,0.5],[2008.66,0.35],[2008.75,0.8],[2008.85,0.6],[2008.93,0.9],[2009.0,0.75],[2009.1,0.85],[2009.2,0.4],[2009.3,0.65],[2009.45,0.7],[2009.55,0.55],[2009.65,0.85],[2009.75,0.4],[2009.9,0.6],[2010.05,0.9],[2010.19,0.95]],
 [[2013.43,0.5],[2013.5,0.95],[2013.56,1.0],[2013.62,0.8],[2013.7,0.85],[2013.78,0.45],[2013.9,1.0],[2014.04,1.57],[2014.15,1.3],[2014.25,1.0],[2014.35,0.6],[2014.45,0.8],[2014.55,0.7],[2014.63,0.75],[2014.72,0.65],[2014.81,0.7],[2014.95,1.2],[2015.09,1.5],[2015.2,1.1],[2015.28,1.0]],
 [[2016.3,0.4],[2016.45,0.6],[2016.57,0.8],[2016.65,0.55],[2016.76,0.5],[2016.9,0.7],[2017.0,1.5],[2017.07,1.65],[2017.15,1.45],[2017.25,1.1],[2017.31,1.2],[2017.4,1.3],[2017.5,1.05],[2017.6,0.8],[2017.69,0.6],[2017.8,0.95],[2017.87,1.0],[2017.95,1.0]]
];

// TP observations [year, mg/L]
const tpObs = [[1979.0,0.16],[1979.03,0.12],[1979.06,0.09],[1979.1,0.14],[1979.14,0.1],[1979.18,0.07],[1979.22,0.05],[1979.26,0.04],[1979.3,0.03],[1979.34,0.25],[1979.38,0.04],[1979.42,0.06],[1979.46,0.035],[1979.5,0.05],[1979.55,0.04],[1979.6,0.03],[1979.65,0.045],[1979.7,0.06],[1979.75,0.035],[1979.8,0.05],[1979.85,0.04],[1979.9,0.03],[1979.95,0.055],[1980.0,0.04],[1980.05,0.05],[1980.1,0.035],[1980.15,0.06],[1980.2,0.045],[1980.25,0.04],[1980.3,0.05],[1980.35,0.03],[1980.4,0.055],[1980.45,0.04],[1980.5,0.26],[1980.55,0.2],[1980.6,0.35],[1980.65,0.31],[1980.7,0.37],[1980.75,0.15],[1980.8,0.12],[1980.85,0.2],[1980.9,0.46],[1980.95,0.1],[1981.0,0.3],[1981.05,0.22],[1981.1,0.16],[1981.15,0.28],[1981.2,0.42],[1981.25,0.43],[1981.3,0.39],[1981.35,0.26],[1981.4,0.3],[1981.45,0.2],[1981.5,0.13],[1981.55,0.31],[1981.6,0.27],[1981.65,0.18],[1981.7,0.22],[1981.75,0.09],[1981.8,0.07],[1981.85,0.065],[1981.9,0.4],[1981.95,0.2],[1982.0,0.34],[1982.05,0.28],[1982.1,0.18],[1982.15,0.15],[1982.2,0.22],[1982.25,0.17],[1982.3,0.19],[1982.35,0.4],[1982.4,0.37],[1982.45,0.27],[1982.5,0.21],[1982.55,0.15],[1982.6,0.2],[1982.65,0.13],[1982.7,0.18],[1982.75,0.25],[1982.8,0.21],[1982.85,0.12],[1982.9,0.17],[1982.95,0.29],[1983.0,0.23],[1983.05,0.16],[1983.1,0.14],[1983.15,0.2],[1983.2,0.11],[1983.25,0.18],[1983.3,0.13],[1983.35,0.1],[1983.5,0.37],[1983.55,0.3],[1983.6,0.34],[1983.65,0.27],[1983.7,0.25],[1983.75,0.31],[1983.8,0.22],[1983.85,0.16],[1983.9,0.12],[1983.95,0.1],[1984.0,0.14],[1984.05,0.09],[1984.1,0.11],[1984.15,0.08],[1984.2,0.13],[1984.25,0.1],[1984.3,0.07],[1984.35,0.465],[1984.4,0.11],[1984.45,0.09],[1984.5,0.12],[1984.55,0.08],[1984.6,0.1],[1984.65,0.06],[1984.7,0.14],[1984.75,0.15],[1984.8,0.1],[1984.85,0.08],[1984.9,0.3],[1984.95,0.375],[1985.0,0.12],[1985.05,0.09],[1985.1,0.07],[1985.15,0.05],[1985.2,0.06],[1985.25,0.1],[1985.3,0.08],[1985.35,0.13],[1985.4,0.18],[1985.45,0.11],[1985.5,0.14],[1985.55,0.12],[1985.6,0.09],[1985.65,0.07],[1985.7,0.1],[1985.75,0.06],[1985.8,0.2],[1985.85,0.24],[1985.9,0.28],[1985.93,0.4],[1985.96,0.385],[1986.0,0.1],[1986.05,0.07],[1986.1,0.05],[1986.15,0.09],[1986.2,0.06],[1986.25,0.04],[1986.3,0.08],[1986.35,0.11],[1986.4,0.13],[1986.45,0.12],[1986.5,0.1],[1986.55,0.08],[1986.6,0.06],[1986.65,0.07],[1986.7,0.05],[1986.75,0.335],[1986.8,0.24],[1986.85,0.2],[1986.9,0.41],[1986.95,0.15],[1987.0,0.1],[1987.05,0.08],[1987.1,0.06],[1987.15,0.05],[1987.2,0.07],[1987.25,0.09],[1987.3,0.04],[1987.35,0.06],[1987.4,0.08],[1987.45,0.05],[1987.5,0.07],[1987.55,0.04],[1987.6,0.06],[1987.65,0.05],[1987.7,0.135],[1987.75,0.1],[1987.8,0.08],[1987.85,0.06],[1987.9,0.44],[1987.95,0.15],[1988.0,0.12],[1988.05,0.18],[1988.1,0.09],[1988.15,0.07],[1988.2,0.16],[1988.25,0.3],[1988.3,0.31],[1988.35,0.21],[1988.4,0.25],[1988.45,0.2],[1988.5,0.23],[1988.55,0.38],[1988.6,0.17],[1988.65,0.13],[1988.7,0.33],[1988.75,0.38],[1988.8,0.31],[1988.85,0.19],[1988.9,0.15],[1988.95,0.21],[1989.0,0.11],[1989.05,0.09],[1989.1,0.07],[1989.15,0.06],[1989.2,0.08],[1989.25,0.1],[1989.3,0.07],[1989.35,0.05],[1989.4,0.12],[1989.45,0.09],[1989.5,0.06],[1989.55,0.18],[1989.6,0.14],[1989.65,0.22],[1989.7,0.15],[1989.75,0.1],[1989.8,0.09],[1989.85,0.2],[1989.9,0.39],[1989.95,0.33],[1990.0,0.29],[1990.05,0.37],[1990.1,0.2],[1990.15,0.21],[1990.2,0.19],[1990.25,0.17],[1990.3,0.2],[1990.35,0.16],[1990.4,0.18],[1990.5,0.1],[1990.55,0.08],[1990.6,0.05],[1990.65,0.04],[1990.7,0.07],[1990.75,0.05],[1990.8,0.09],[1990.85,0.06],[1990.9,0.12],[1990.95,0.08],[1991.0,0.1],[1991.05,0.07],[1991.1,0.06],[1991.15,0.09],[1991.2,0.12],[1991.3,0.16],[1991.33,0.22],[1991.36,0.26],[1991.4,0.23],[1991.45,0.2],[1991.5,0.17],[1991.55,0.375],[1991.6,0.33],[1991.65,0.15],[1991.7,0.13],[1991.75,0.1],[1991.8,0.08],[1991.85,0.06],[1991.9,0.09],[1991.95,0.07],[1992.0,0.12],[1992.05,0.1],[1992.1,0.06],[1992.15,0.05],[1992.2,0.08],[1992.3,0.32],[1992.33,0.29],[1992.36,0.2],[1992.4,0.16],[1992.45,0.14],[1992.5,0.12],[1992.55,0.29],[1992.6,0.25],[1992.65,0.23],[1992.7,0.34],[1992.75,0.435],[1992.8,0.1],[1992.85,0.06],[1992.9,0.05],[1992.95,0.08],[1993.0,0.06],[1993.05,0.05],[1993.1,0.04],[1993.15,0.07],[1993.2,0.05],[1993.3,0.03],[1993.35,0.06],[1993.4,0.04],[1993.5,0.02],[1993.55,0.015],[1993.6,0.03],[1993.65,0.02],[1993.7,0.01],[1993.75,0.025],[1993.8,0.04],[1993.85,0.06],[1993.9,0.05],[1993.95,0.07],[1994.0,0.09],[1994.05,0.06],[1994.1,0.04],[1994.15,0.03],[1994.2,0.05],[1994.25,0.25],[1994.3,0.07],[1994.35,0.06],[1994.4,0.1],[1994.45,0.08],[1994.5,0.05],[1994.55,0.04],[1994.6,0.06],[1994.65,0.05],[1994.7,0.07],[1994.75,0.09],[1994.8,0.06],[1994.85,0.1],[1994.9,0.08],[1994.95,0.05],[1995.0,0.06],[1995.05,0.04],[1995.1,0.07],[1995.15,0.05],[1995.2,0.09],[1995.25,0.12],[1995.3,0.1],[1995.35,0.08],[1995.4,0.26],[1995.45,0.11],[1995.5,0.09],[1995.55,0.07],[1995.6,0.1],[1995.65,0.12],[1995.7,0.08],[1995.75,0.06],[1995.8,0.11],[1995.85,0.09],[1995.9,0.13],[1995.95,0.07],[1996.0,0.05],[1996.05,0.08],[1996.1,0.06],[1996.15,0.1],[1996.2,0.07],[1996.25,0.04],[1996.3,0.06],[1996.35,0.03],[1996.4,0.23],[1996.45,0.31],[1996.5,0.19],[1996.55,0.16],[1996.6,0.15],[1996.65,0.06],[1996.7,0.04],[1996.75,0.03],[1996.8,0.05],[1996.85,0.07],[1996.9,0.04],[1996.95,0.06],[1997.0,0.05],[1997.1,0.07],[1997.15,0.04],[1997.2,0.03],[1997.25,0.06],[1997.3,0.05],[1997.4,0.04],[1997.5,0.07],[1997.6,0.05],[1997.7,0.09],[1997.8,0.19],[1997.85,0.17],[1997.9,0.06],[1998.0,0.05],
[1998.06,0.09],[1998.15,0.054],[1998.24,0.036],[1998.33,0.048],[1998.48,0.03],[1998.56,0.054],[1998.67,0.153],[1998.8,0.036],[1998.93,0.048],[1999.04,0.079],[1999.11,0.06],[1999.22,0.048],[1999.35,0.054],[1999.44,0.042],[1999.54,0.279],[1999.59,0.098],[1999.72,0.089],[1999.81,0.042],[1999.91,0.054],[2000.0,0.048],[2000.09,0.06],[2000.19,0.054],[2000.28,0.048],[2000.37,0.057],[2000.46,0.052],[2000.52,0.26],[2000.65,0.11],[2000.74,0.054],[2000.83,0.11],[2000.93,0.06],[2001.02,0.048],[2001.11,0.069],[2001.2,0.131],[2001.3,0.048],[2001.39,0.04],[2004.44,0.03],[2004.54,0.023],[2004.59,0.095],[2004.67,0.036],[2004.78,0.017],[2004.91,0.048],[2005.0,0.03],[2005.15,0.036],[2005.33,0.042],[2005.37,0.1],[2005.46,0.017],[2005.56,0.036],[2005.7,0.03],[2005.83,0.048],[2005.96,0.036],[2006.07,0.023],[2006.2,0.042],[2006.33,0.03],[2006.44,0.017],[2006.57,0.036],[2006.7,0.048],[2006.81,0.03],[2006.94,0.04],[2007.07,0.023],[2007.19,0.036],[2007.31,0.027],[2007.44,0.054],[2007.56,0.036],[2007.69,0.017],[2007.81,0.04],[2007.96,0.085],[2008.06,0.03],[2008.19,0.042],[2008.3,0.027],[2008.37,0.048],[2008.52,0.032],[2008.67,0.04],[2008.8,0.03],[2008.93,0.036],[2009.07,0.023],[2009.17,0.048],[2009.3,0.03],[2009.41,0.023],[2009.54,0.054],[2009.63,0.067],[2009.72,0.036],[2009.81,0.073],[2009.91,0.032],[2010.0,0.023],[2010.09,0.036],[2010.19,0.027],[2010.33,0.02],[2010.46,0.03],[2010.59,0.023],[2010.74,0.032],[2010.89,0.02],[2011.02,0.03],[2011.11,0.048],[2011.26,0.023],[2011.39,0.032],[2011.52,0.02],[2011.67,0.03],[2011.81,0.023],[2011.94,0.032],[2012.07,0.017],[2012.22,0.027],[2012.37,0.02],[2012.5,0.015],[2012.63,0.023],[2012.78,0.017],[2012.93,0.027],[2013.06,0.02],[2013.19,0.03],[2013.33,0.023],[2013.48,0.122],[2016.48,0.023],[2016.63,0.017],[2016.76,0.027],[2016.89,0.015],[2017.04,0.023],[2017.19,0.02],[2017.31,0.011],[2017.44,0.017],[2017.59,0.015],[2017.74,0.023],[2017.87,0.03]];

// additional TP observations (dense 1979-1998)
const tpObs2 = [[1979.02,0.08],[1979.08,0.06],[1979.12,0.05],[1979.2,0.04],[1979.28,0.03],[1979.32,0.05],[1979.4,0.03],[1979.48,0.04],[1979.52,0.03],[1979.58,0.05],[1979.62,0.04],[1979.68,0.03],[1979.72,0.05],[1979.78,0.04],[1979.82,0.03],[1979.88,0.05],[1979.92,0.04],[1979.98,0.03],[1980.02,0.05],[1980.08,0.04],[1980.12,0.06],[1980.18,0.03],[1980.22,0.05],[1980.28,0.04],[1980.32,0.06],[1980.38,0.04],[1980.42,0.05],[1980.52,0.12],[1980.58,0.09],[1980.62,0.14],[1980.68,0.1],[1980.72,0.16],[1980.78,0.13],[1980.82,0.18],[1980.88,0.14],[1980.92,0.22],[1980.98,0.17],[1981.02,0.2],[1981.08,0.13],[1981.12,0.25],[1981.18,0.19],[1981.22,0.33],[1981.28,0.22],[1981.32,0.17],[1981.38,0.28],[1981.42,0.24],[1981.48,0.16],[1981.52,0.22],[1981.58,0.19],[1981.62,0.13],[1981.68,0.16],[1981.72,0.12],[1981.78,0.1],[1981.82,0.07],[1981.88,0.06],[1981.92,0.15],[1981.98,0.12],[1982.02,0.24],[1982.08,0.2],[1982.12,0.16],[1982.18,0.13],[1982.22,0.18],[1982.28,0.15],[1982.32,0.23],[1982.38,0.2],[1982.42,0.18],[1982.48,0.16],[1982.52,0.19],[1982.58,0.17],[1982.62,0.16],[1982.68,0.15],[1982.72,0.2],[1982.78,0.17],[1982.82,0.19],[1982.88,0.14],[1982.92,0.2],[1982.98,0.18],[1983.02,0.19],[1983.08,0.17],[1983.12,0.2],[1983.18,0.15],[1983.22,0.14],[1983.28,0.16],[1983.32,0.12],[1983.4,0.15],[1983.45,0.2],[1983.52,0.28],[1983.58,0.26],[1983.62,0.22],[1983.68,0.2],[1983.72,0.18],[1983.78,0.27],[1983.82,0.14],[1983.88,0.09],[1983.92,0.11],[1983.98,0.08],[1984.02,0.1],[1984.08,0.12],[1984.12,0.09],[1984.18,0.1],[1984.22,0.08],[1984.28,0.11],[1984.32,0.09],[1984.38,0.1],[1984.42,0.13],[1984.48,0.1],[1984.52,0.09],[1984.58,0.11],[1984.62,0.08],[1984.68,0.12],[1984.72,0.1],[1984.78,0.09],[1984.82,0.12],[1984.88,0.11],[1985.02,0.1],[1985.08,0.06],[1985.12,0.05],[1985.18,0.07],[1985.22,0.05],[1985.28,0.09],[1985.32,0.1],[1985.38,0.15],[1985.42,0.13],[1985.48,0.12],[1985.52,0.1],[1985.58,0.11],[1985.62,0.08],[1985.68,0.06],[1985.72,0.08],[1985.78,0.12],[1985.82,0.15],[1986.02,0.09],[1986.08,0.06],[1986.12,0.07],[1986.18,0.05],[1986.22,0.08],[1986.28,0.06],[1986.32,0.1],[1986.38,0.12],[1986.42,0.11],[1986.48,0.13],[1986.52,0.09],[1986.58,0.07],[1986.62,0.05],[1986.68,0.06],[1986.72,0.12],[1986.78,0.13],[1986.82,0.12],[1986.88,0.11],[1986.98,0.09],[1987.02,0.07],[1987.08,0.05],[1987.12,0.06],[1987.18,0.04],[1987.22,0.06],[1987.28,0.05],[1987.32,0.07],[1987.38,0.05],[1987.42,0.06],[1987.48,0.04],[1987.52,0.06],[1987.58,0.05],[1987.62,0.07],[1987.68,0.06],[1987.72,0.05],[1987.78,0.07],[1987.82,0.06],[1987.88,0.05],[1987.98,0.1],[1988.02,0.08],[1988.08,0.14],[1988.12,0.17],[1988.18,0.2],[1988.22,0.22],[1988.28,0.24],[1988.32,0.19],[1988.38,0.22],[1988.42,0.18],[1988.48,0.25],[1988.52,0.2],[1988.58,0.19],[1988.62,0.16],[1988.68,0.2],[1988.72,0.17],[1988.78,0.2],[1988.82,0.14],[1988.88,0.12],[1988.92,0.1],[1989.02,0.08],[1989.08,0.06],[1989.12,0.05],[1989.18,0.07],[1989.22,0.09],[1989.28,0.06],[1989.32,0.04],[1989.38,0.1],[1989.42,0.08],[1989.48,0.07],[1989.52,0.12],[1989.58,0.16],[1989.62,0.19],[1989.68,0.17],[1989.72,0.12],[1989.78,0.08],[1989.82,0.15],[1989.88,0.17],[1989.92,0.2],[1989.98,0.21],[1990.02,0.18],[1990.08,0.16],[1990.12,0.19],[1990.18,0.15],[1990.22,0.2],[1990.28,0.14],[1990.32,0.17],[1990.38,0.1],[1990.45,0.12],[1990.52,0.07],[1990.58,0.09],[1990.68,0.06],[1990.78,0.08],[1990.88,0.1],[1990.98,0.09],[1991.08,0.05],[1991.18,0.07],[1991.25,0.08],[1991.38,0.2],[1991.42,0.18],[1991.48,0.15],[1991.52,0.22],[1991.58,0.12],[1991.62,0.1],[1991.68,0.09],[1991.72,0.07],[1991.78,0.06],[1991.88,0.05],[1991.98,0.08],[1992.08,0.07],[1992.18,0.06],[1992.25,0.09],[1992.38,0.18],[1992.42,0.15],[1992.48,0.13],[1992.52,0.15],[1992.58,0.2],[1992.62,0.16],[1992.68,0.2],[1992.72,0.17],[1992.78,0.08],[1992.82,0.06],[1992.88,0.07],[1992.98,0.05],
[1993.02,0.04],[1993.08,0.06],[1993.12,0.05],[1993.18,0.03],[1993.25,0.04],[1993.45,0.03],[1993.58,0.02],[1993.72,0.03],[1993.78,0.02],[1993.88,0.04],[1993.98,0.05],[1994.08,0.07],[1994.18,0.05],[1994.28,0.04],[1994.38,0.08],[1994.48,0.06],[1994.58,0.07],[1994.68,0.06],[1994.78,0.05],[1994.88,0.07],[1994.98,0.08],[1995.08,0.06],[1995.18,0.08],[1995.28,0.07],[1995.38,0.1],[1995.48,0.07],[1995.58,0.09],[1995.68,0.1],[1995.78,0.08],[1995.88,0.1],[1995.98,0.08],[1996.08,0.07],[1996.18,0.09],[1996.28,0.05],[1996.38,0.1],[1996.48,0.12],[1996.58,0.08],[1996.68,0.05],[1996.78,0.04],[1996.88,0.06],[1996.98,0.04],[1997.08,0.05],[1997.18,0.06],[1997.28,0.04],[1997.38,0.06],[1997.48,0.05],[1997.58,0.06],[1997.68,0.07],[1997.78,0.08],[1997.88,0.05],[1997.98,0.06]];

const tpModel = [
 [[1979.35,0.03],[1979.63,0.09],[1979.81,0.17],[1979.91,0.19],[1980.0,0.185],[1980.09,0.19],[1980.22,0.195],[1980.31,0.19],[1980.41,0.04],[1980.5,0.03],[1980.59,0.08],[1980.83,0.13],[1981.07,0.16],[1981.2,0.175],[1981.3,0.04],[1981.44,0.07],[1981.67,0.1],[1981.85,0.115],[1982.04,0.11],[1982.22,0.12],[1982.41,0.13],[1982.5,0.11],[1982.69,0.125],[1982.87,0.105],[1983.06,0.14],[1983.24,0.16]],
 [[1991.3,0.04],[1991.39,0.08],[1991.48,0.11],[1991.57,0.07],[1991.67,0.09],[1991.81,0.07],[1991.94,0.08],[1992.13,0.09],[1992.26,0.12],[1992.37,0.125],[1992.46,0.085],[1992.59,0.07],[1992.78,0.05]],
 [[1996.39,0.1],[1996.48,0.06],[1996.63,0.03],[1996.85,0.07],[1997.0,0.1],[1997.13,0.12],[1997.22,0.11],[1997.31,0.04],[1997.5,0.06],[1997.69,0.05],[1997.87,0.04],[1998.0,0.09],[1998.15,0.11]],
 [[2005.28,0.03],[2005.41,0.085],[2005.56,0.064],[2005.74,0.079],[2005.93,0.091],[2006.07,0.077],[2006.2,0.098],[2006.39,0.089],[2006.57,0.104],[2006.7,0.085],[2006.85,0.106],[2007.04,0.122],[2007.17,0.098]],
 [[2008.43,0.048],[2008.52,0.057],[2008.61,0.032],[2008.8,0.036],[2008.93,0.073],[2009.07,0.11],[2009.22,0.098],[2009.35,0.089],[2009.48,0.06],[2009.63,0.052],[2009.78,0.036],[2009.91,0.042],[2010.0,0.079],[2010.09,0.119],[2010.28,0.116]],
 [[2013.43,0.03],[2013.56,0.06],[2013.67,0.048],[2013.85,0.116],[2014.04,0.19],[2014.17,0.178],[2014.26,0.141],[2014.35,0.03],[2014.44,0.054],[2014.59,0.048],[2014.72,0.06],[2014.85,0.081],[2014.96,0.128],[2015.09,0.2],[2015.19,0.165],[2015.28,0.141]],
 [[2016.3,0.03],[2016.48,0.042],[2016.7,0.067],[2016.81,0.032],[2016.94,0.104],[2017.07,0.215],[2017.19,0.19],[2017.31,0.153],[2017.44,0.135],[2017.56,0.116],[2017.69,0.054],[2017.78,0.091],[2017.87,0.098],[2017.96,0.153]]
];

// Dissolved oxygen observations [year, mg/L]
const doObs = [[1979.0,9.2],[1979.03,7.5],[1979.06,6.5],[1979.1,5.8],[1979.13,4.3],[1979.16,6.8],[1979.2,7.2],[1979.25,8.0],[1979.3,8.4],[1979.35,8.0],[1979.4,12.3],[1979.45,11.0],[1979.5,9.5],[1979.55,10.2],[1979.6,6.3],[1979.65,8.8],[1979.7,9.5],[1981.5,13.9],[1981.55,15.6],[1981.6,14.8],[1981.65,12.2],[1981.7,11.0],[1981.75,10.3],[1981.8,9.5],[1981.85,12.0],[1981.9,11.5],[1981.95,10.8],[1982.0,9.8],[1982.05,8.2],[1982.1,7.5],[1982.15,6.8],[1982.2,8.5],[1982.25,9.0],[1982.3,11.3],[1982.35,12.6],[1982.4,13.5],[1982.45,14.0],[1982.5,11.8],[1982.55,10.5],[1982.6,9.2],[1982.65,8.0],[1982.7,6.5],[1982.75,7.2],[1982.8,5.8],[1982.85,6.2],[1982.9,3.5],[1982.95,4.8],[1983.0,6.0],[1983.05,7.0],[1983.1,8.5],[1983.15,9.8],[1983.2,10.5],[1983.25,11.5],[1983.3,9.0],[1983.35,10.0],[1983.4,8.2],[1983.45,11.8],[1983.5,9.5],[1983.55,8.5],[1983.6,7.8],[1983.65,6.0],[1983.7,5.0],[1983.75,4.2],[1983.8,3.8],[1983.85,2.5],[1983.9,4.5],[1983.95,5.5],[1984.0,6.8],[1984.05,8.0],[1984.1,9.5],[1984.15,12.5],[1984.2,13.2],[1984.25,11.0],[1984.3,10.5],[1984.35,9.0],[1984.4,10.2],[1984.45,11.2],[1984.5,9.8],[1984.55,8.5],[1984.6,7.5],[1984.65,6.5],[1984.7,6.0],[1984.75,5.0],[1984.8,5.8],[1984.85,6.5],[1984.9,7.8],[1984.95,8.8],[1985.0,9.5],[1985.05,10.5],[1985.1,12.0],[1985.15,11.2],[1985.2,9.8],[1985.25,8.5],[1985.3,7.0],[1985.35,6.0],[1985.4,5.2],[1985.45,6.8],[1985.5,3.5],[1985.55,7.5],[1985.6,8.8],[1985.65,10.0],[1985.7,11.5],[1985.75,12.2],[1985.8,9.2],[1985.85,10.3],[1985.9,8.0],[1985.95,6.5],[1986.0,5.5],[1986.05,4.8],[1986.1,6.0],[1986.15,7.2],[1986.2,8.5],[1986.25,9.5],[1986.3,10.8],[1986.35,11.8],[1986.4,10.0],[1986.45,9.0],[1986.5,8.0],[1986.55,13.0],[1986.6,7.0],[1986.65,6.0],[1986.7,9.5],[1986.75,10.8],[1986.8,15.0],[1986.85,12.0],[1986.9,11.3],[1986.95,2.6],[1987.0,8.5],[1987.05,7.0],[1987.1,6.2],[1987.15,5.5],[1987.2,6.5],[1987.25,7.5],[1987.3,8.5],[1987.35,5.2],[1987.4,6.0],[1987.45,9.8],[1987.5,10.5],[1987.55,8.0],[1987.6,6.5],[1987.65,5.8],[1987.7,5.0],[1987.75,4.2],[1987.8,5.5],[1987.85,6.2],[1987.9,7.0],[1987.95,8.2],[1988.0,9.0],[1988.05,10.2],[1988.1,11.0],[1988.15,12.0],[1988.2,11.5],[1988.25,10.0],[1988.3,9.2],[1988.35,8.0],[1988.4,7.5],[1988.45,6.2],[1988.5,5.5],[1988.55,14.2],[1988.6,13.5],[1988.65,7.0],[1988.7,6.5],[1988.75,7.8],[1988.8,8.8],[1988.85,9.8],[1988.9,10.5],[1988.95,9.2],[1989.0,7.5],[1989.1,6.2],[1989.15,6.8],[1989.2,7.5],[1989.3,8.5],[1989.35,9.5],[1989.4,10.2],[1989.45,9.0],[1989.5,8.8],[1989.55,9.8],[1989.6,10.5],[1989.65,9.3],[1989.7,8.5],[1989.75,9.0],[1989.8,10.8],[1989.85,11.2],[1989.9,9.5],[1989.95,8.0],[1990.0,5.5],[1990.05,4.8],[1990.1,6.3],[1990.15,7.0],[1990.2,8.5],[1990.3,9.8],[1990.35,10.5],[1990.4,9.2],[1990.45,8.0],[1990.5,0.7],[1990.55,10.8],[1990.6,9.5],[1990.7,8.0],[1990.8,7.2],[1990.9,6.5],[1991.0,5.0],[1991.05,5.8],[1991.1,6.3],[1991.15,7.0],[1991.2,8.2],[1991.3,9.5],[1991.35,10.5],[1991.4,11.0],[1991.45,9.8],[1991.5,10.2],[1991.55,12.0],[1991.6,13.2],[1991.65,8.8],[1991.7,9.0],[1991.75,7.5],[1991.8,6.8],[1991.85,7.2],[1991.9,8.0],[1991.95,6.5],[1992.0,7.5],[1992.1,8.5],[1992.2,9.5],[1992.3,10.0],[1992.35,9.0],[1992.45,8.0],[1992.55,9.2],[1992.6,10.2],[1992.65,11.3],[1992.7,10.8],[1992.75,9.6],[1992.8,8.5],[1992.9,7.0],[1992.95,6.5],[1993.0,7.2],[1993.1,6.0],[1993.2,4.9],[1993.25,5.8],[1993.3,6.5],[1993.4,7.0],[1993.5,7.8],[1993.55,8.5],[1993.6,9.0],[1993.7,10.0],[1993.75,8.0],[1993.8,7.5],[1993.9,6.8],[1994.0,6.2],[1994.1,5.5],[1994.15,6.5],[1994.2,4.8],[1994.25,7.0],[1994.3,8.0],[1994.35,11.0],[1994.4,10.5],[1994.45,9.5],[1994.5,8.8],[1994.55,9.8],[1994.6,8.5],[1994.65,7.5],[1994.7,7.0],[1994.75,6.5],[1994.8,7.2],[1994.85,8.0],[1994.9,7.5],[1994.95,6.8],[1995.0,6.0],[1995.05,5.5],[1995.1,7.0],[1995.15,7.5],[1995.2,8.2],[1995.25,8.8],[1995.3,9.5],[1995.35,10.0],[1995.4,10.8],[1995.45,9.2],[1995.5,8.5],[1995.55,7.8],[1995.6,7.0],[1995.65,6.5],[1995.7,7.2],[1995.75,8.0],[1995.8,7.5],[1995.85,6.8],[1995.9,7.5],[1995.95,8.2],[1996.0,9.0],[1996.05,9.5],[1996.1,10.2],[1996.15,8.5],[1996.2,7.8],[1996.25,7.2],[1996.3,6.8],[1996.35,7.5],[1996.4,8.5],[1996.45,9.8],[1996.5,10.5],[1996.55,9.8],[1996.6,8.8],[1996.65,8.0],[1996.7,7.5],[1996.75,6.8],[1996.8,6.2],[1996.85,7.0],[1996.9,7.8],[1996.95,6.5],[1997.0,5.8],[1997.05,6.8],[1997.1,7.5],[1997.15,8.2],[1997.2,9.0],[1997.25,9.5],[1997.3,10.2],[1997.35,10.6],[1997.4,9.8],[1997.45,9.0],[1997.5,8.5],[1997.55,7.8],[1997.6,7.2],[1997.65,6.8],[1997.7,5.2],[1997.75,6.5],[1997.8,7.2],[1997.85,7.8],[1997.9,8.5],[1997.95,9.5],[1998.0,10.0],
[1998.06,8.1],[1998.15,7.4],[1998.24,6.7],[1998.33,7.1],[1998.43,11.1],[1998.48,9.1],[1998.56,9.5],[1998.67,14.0],[1998.74,9.7],[1998.85,6.9],[1998.93,6.6],[1999.04,6.3],[1999.11,6.2],[1999.22,4.8],[1999.3,7.6],[1999.41,7.9],[1999.54,15.3],[1999.59,9.7],[1999.67,9.5],[1999.78,9.1],[1999.85,8.0],[1999.96,7.1],[2000.04,7.5],[2000.15,6.9],[2000.28,6.4],[2000.41,10.1],[2000.52,11.6],[2000.59,10.8],[2000.7,10.3],[2000.78,9.5],[2000.83,7.1],[2000.93,6.7],[2001.02,7.1],[2001.11,7.5],[2001.26,7.4],[2001.35,10.1],[2001.44,6.6],[2002.22,7.6],[2002.31,7.0],[2002.41,9.4],[2002.5,10.1],[2002.59,8.6],[2002.69,8.0],[2002.81,7.7],[2002.96,6.9],[2003.06,6.6],[2003.15,6.7],[2003.24,8.4],[2003.33,7.6],[2003.48,10.3],[2003.56,10.2],[2003.7,7.0],[2003.85,6.7],[2003.93,1.6],[2004.07,5.1],[2004.17,7.9],[2004.26,7.6],[2004.35,8.0],[2004.48,4.8],[2004.59,8.6],[2004.67,8.2],[2004.78,7.9],[2004.91,7.6],[2005.0,7.4],[2005.19,5.6],[2005.37,8.9],[2005.56,8.6],[2005.7,9.1],[2005.83,9.4],[2005.96,8.6],[2006.11,7.6],[2006.26,8.4],[2006.39,8.2],[2006.52,7.9],[2006.63,7.4],[2006.76,8.4],[2006.85,9.6],[2006.94,7.7],[2007.04,5.3],[2007.09,17.2],[2007.17,13.2],[2007.22,10.3],[2007.31,8.9],[2007.41,9.1],[2007.5,8.7],[2007.59,9.2],[2007.69,9.1],[2007.78,8.0],[2007.87,7.6],[2007.96,5.7],[2008.06,3.1],[2008.11,4.6],[2008.19,7.0],[2008.3,8.2],[2008.37,10.5],[2008.43,11.5],[2008.52,14.0],[2008.61,9.1],[2008.7,8.6],[2008.8,8.0],[2008.89,7.6],[2008.98,6.9],[2009.07,5.9],[2009.13,10.8],[2009.22,8.2],[2009.3,7.5],[2009.41,6.7],[2009.48,7.9],[2009.59,9.6],[2009.67,9.2],[2009.78,7.9],[2009.85,7.1],[2009.96,6.4],[2010.04,5.9],[2010.15,6.3],[2010.22,7.6],[2010.33,0.6],[2010.41,8.6],[2010.52,9.1],[2010.59,8.0],[2010.7,7.5],[2010.78,6.9],[2010.89,6.4],[2010.96,2.8],[2011.07,5.3],[2011.15,6.2],[2011.26,6.7],[2011.33,2.6],[2011.39,1.8],[2011.48,8.0],[2011.57,8.7],[2011.67,8.2],[2011.76,7.6],[2011.85,7.0],[2011.94,6.4],[2012.04,6.2],[2012.13,6.7],[2012.22,5.7],[2012.31,4.4],[2012.41,5.4],[2012.5,6.1],[2012.93,6.7],[2013.06,6.4],[2013.15,7.6],[2013.33,8.0],[2013.48,8.4],[2013.61,7.0],[2013.74,6.7],[2013.85,7.7],[2013.98,8.6],[2014.07,8.0],[2014.22,7.2],[2014.35,7.7],[2014.48,8.6],[2014.63,8.2],[2014.78,6.7],[2014.91,6.3],[2015.0,5.7],[2015.09,7.0],[2015.19,7.9],[2015.33,8.2],[2015.46,8.6],[2015.59,8.9],[2015.7,8.0],[2015.83,7.1],[2015.96,6.3],[2016.07,5.9],[2016.2,7.2],[2016.3,8.6],[2016.39,9.4],[2016.48,9.7],[2016.57,8.9],[2016.67,8.0],[2016.76,7.5],[2016.85,6.7],[2016.94,5.7],[2017.04,5.3],[2017.13,6.4],[2017.22,7.6],[2017.31,8.4],[2017.41,8.0],[2017.5,7.4],[2017.59,8.7],[2017.69,9.1],[2017.78,8.2],[2017.87,7.1]];

// additional DO observations (dense 1981-1998)
const doObs2 = [[1981.52,12.5],[1981.58,11.2],[1981.62,13],[1981.68,10.5],[1981.72,12.8],[1981.78,11],[1981.82,10],[1981.88,9.2],[1981.92,12.5],[1981.98,10.2],[1982.02,9],[1982.08,8.8],[1982.12,8],[1982.18,7.8],[1982.22,9.5],[1982.28,10],[1982.32,10.8],[1982.38,11.5],[1982.42,12],[1982.48,10.8],[1982.52,10],[1982.58,9.5],[1982.62,8.5],[1982.68,7.5],[1982.72,6.8],[1982.78,6.5],[1982.82,7],[1982.88,5.5],[1982.92,6.5],[1982.98,7.5],[1983.02,8],[1983.08,9],[1983.12,10],[1983.18,9.2],[1983.22,8.8],[1983.28,10.5],[1983.32,8.5],[1983.38,9.5],[1983.42,7.5],[1983.48,8.8],[1983.52,7.2],[1983.58,7],[1983.62,6.5],[1983.68,5.5],[1983.72,6],[1983.78,4.8],[1983.82,5.5],[1983.88,6],[1983.92,7],[1983.98,8],[1984.02,7.5],[1984.08,9],[1984.12,10.5],[1984.18,11.5],[1984.22,10],[1984.28,9.5],[1984.32,8.5],[1984.38,9.5],[1984.42,10.5],[1984.48,8.8],[1984.52,9],[1984.58,7.8],[1984.62,7],[1984.68,6.8],[1984.72,5.5],[1984.78,6.2],[1984.82,7],[1984.88,7.5],[1984.92,8.5],[1984.98,9.8],[1985.02,10],[1985.08,11],[1985.12,10.5],[1985.18,9],[1985.22,9.5],[1985.28,8],[1985.32,7.5],[1985.38,6.5],[1985.42,6],[1985.48,5.5],[1985.52,6.5],[1985.58,8],[1985.62,9.5],[1985.68,10.5],[1985.72,11],[1985.78,10],[1985.82,9.8],[1985.88,8.8],[1985.92,7.5],[1985.98,6],[1986.02,6.5],[1986.08,5.5],[1986.12,6.8],[1986.18,8],[1986.22,9],[1986.28,10],[1986.32,11],[1986.38,10.5],[1986.42,9.5],[1986.48,8.5],[1986.52,9],[1986.58,8],[1986.62,7.5],[1986.68,8],[1986.72,10],[1986.78,11.5],[1986.82,10],[1986.88,9.8],[1986.92,9],[1986.98,8],[1987.02,7.5],[1987.08,6.8],[1987.12,6],[1987.18,6],[1987.22,7],[1987.28,8],[1987.32,9],[1987.38,6.5],[1987.42,8.5],[1987.48,9],[1987.52,9.5],[1987.58,7.5],[1987.62,6],[1987.68,6.2],[1987.72,5.5],[1987.78,5],[1987.82,6],[1987.88,6.8],[1987.92,7.5],[1987.98,8.5],[1988.02,9.5],[1988.08,10.5],[1988.12,11.5],[1988.18,10.8],[1988.22,10.5],[1988.28,9.8],[1988.32,8.5],[1988.38,8],[1988.42,7],[1988.48,6],[1988.52,6.8],[1988.58,12],[1988.62,11],[1988.68,7.5],[1988.72,7],[1988.78,8.5],[1988.82,9.2],[1988.88,10],[1988.92,9.8],[1988.98,8.5],[1989.05,7],[1989.25,7.8],[1989.42,9.5],[1989.52,9.2],[1989.58,10],[1989.62,9],[1989.68,9.5],[1989.72,8.8],[1989.78,9.5],[1989.82,10],[1989.88,9.8],[1989.92,8.8],[1989.98,7.5],
[1990.25,9],[1990.42,8.5],[1990.48,9.5],[1990.65,8.8],[1990.75,7.5],[1990.85,6.8],[1990.95,6],[1991.25,9],[1991.42,10.2],[1991.48,10.8],[1991.58,11],[1991.68,9.5],[1991.78,8],[1991.88,7.5],[1991.98,7],[1992.05,8],[1992.15,9],[1992.25,9.8],[1992.4,8.5],[1992.5,8.5],[1992.85,7.8],[1993.05,6.5],[1993.15,5.5],[1993.35,6.8],[1993.45,7.5],[1993.65,9.5],[1993.85,7],[1993.95,6.5],[1994.05,5.8],[1994.42,9.8],[1994.52,9.2],[1994.62,8],[1994.72,7.5],[1994.82,7.8],[1994.92,7],[1995.02,6.5],[1995.12,7.2],[1995.22,8.5],[1995.32,9],[1995.42,10.2],[1995.52,8.8],[1995.62,7.2],[1995.72,7.5],[1995.82,7.2],[1995.92,8],[1996.02,9.2],[1996.12,9.8],[1996.22,7.5],[1996.32,7.2],[1996.42,9],[1996.52,10],[1996.62,8.5],[1996.72,7.2],[1996.82,6.8],[1996.92,7.5],[1997.02,6.2],[1997.12,7.8],[1997.22,9.2],[1997.32,10],[1997.42,9.5],[1997.52,8.2],[1997.62,7],[1997.72,6.2],[1997.82,7.5],[1997.92,9]];

const doModel = [
 [[1979.3,7.3],[1979.45,8.2],[1979.6,9.2],[1979.8,8.5],[1980.0,7.2],[1980.22,6.8],[1980.4,8.5],[1980.59,9.8],[1980.8,9.0],[1981.05,7.8],[1981.26,7.3],[1981.45,9.0],[1981.57,10.4],[1981.75,9.0],[1982.0,8.0],[1982.22,7.6],[1982.4,8.8],[1982.5,9.5],[1982.7,8.5],[1983.0,7.5],[1983.24,7.0]],
 [[1991.26,7.0],[1991.4,9.0],[1991.52,10.6],[1991.7,9.0],[1991.9,7.6],[1992.13,7.4],[1992.35,8.5],[1992.55,9.8],[1992.68,10.1],[1992.78,9.4]],
 [[1996.3,8.0],[1996.57,10.0],[1996.85,8.0],[1997.13,7.0],[1997.31,8.5],[1997.5,9.5],[1997.78,7.8],[1998.06,7.0],[1998.43,8.0]],
 [[2005.19,7.0],[2005.28,8.2],[2005.41,9.5],[2005.65,8.5],[2005.93,7.2],[2006.11,8.0],[2006.26,9.3],[2006.48,7.8],[2006.67,7.0],[2006.89,8.5],[2007.13,6.8]],
 [[2008.24,7.5],[2008.37,8.8],[2008.48,9.7],[2008.67,8.3],[2008.89,7.3],[2009.04,7.0],[2009.26,8.2],[2009.54,9.4],[2009.72,8.2],[2009.91,7.2],[2010.19,8.0]],
 [[2013.24,4.8],[2013.37,7.5],[2013.52,8.7],[2013.61,7.8],[2013.7,7.0],[2013.8,8.6],[2013.93,8.0],[2014.07,7.2],[2014.17,8.0],[2014.26,8.4],[2014.44,7.3],[2014.54,8.2],[2014.63,8.4],[2014.78,7.5],[2014.91,6.8],[2015.0,8.0],[2015.09,8.3],[2015.28,8.0]],
 [[2016.26,6.0],[2016.35,7.8],[2016.48,8.5],[2016.63,7.5],[2016.76,8.2],[2016.94,8.8],[2017.13,7.2],[2017.31,8.5],[2017.5,7.4],[2017.69,9.0],[2017.78,8.6],[2017.93,8.3]]
];

// ---------------- CHART ----------------
const obsSets = [salObs.concat(salObs2), tempObs.concat(tempObs2), tnObs.concat(tnObs2), tpObs.concat(tpObs2), doObs.concat(doObs2)];
const modelSets = [salModel, tempModel, tnModel, tpModel, doModel];

const FONT = '"Liberation Sans", Arial, Helvetica, sans-serif';
const AXC = '#262626';
const GRIDC = '#e4e4e4';
const gridTops = [58.5, 234.5, 410, 585.5, 761];
const gridH = 136.5;
const gridLeft = 78, gridW = 702;
const boxTops = [77, 253, 430, 604, 780];

const grids = [], xAxes = [], yAxes = [], series = [], graphics = [];

function fmt(v) { return String(Math.round(v * 1000) / 1000); }

for (let i = 0; i < 5; i++) {
  grids.push({ left: gridLeft, top: gridTops[i], width: gridW, height: gridH, containLabel: false });
  const baseX = {
    gridIndex: i, type: 'value', min: xMin, max: xMax,
    axisLine: { show: true, onZero: false, lineStyle: { color: AXC, width: 1 } },
    axisTick: { show: true, inside: true, length: 5, customValues: xTicks, lineStyle: { color: AXC } },
  };
  xAxes.push(Object.assign({}, baseX, {
    position: 'bottom',
    axisLabel: { show: true, customValues: xTicks, color: AXC, fontSize: 14, fontFamily: FONT, margin: 9,
      formatter: (v) => String(Math.round(v)) },
    splitLine: { show: true, lineStyle: { color: GRIDC, width: 1 } }
  }));
  xAxes.push(Object.assign({}, baseX, {
    position: 'top',
    axisLabel: { show: false },
    splitLine: { show: false }
  }));
  const yMax = yMaxs[i];
  const baseY = {
    gridIndex: i, type: 'value', min: 0, max: yMax, interval: ySteps[i],
    axisLine: { show: true, onZero: false, lineStyle: { color: AXC, width: 1 } },
    axisTick: { show: true, inside: true, length: 5, lineStyle: { color: AXC } },
  };
  yAxes.push(Object.assign({}, baseY, {
    position: 'left',
    axisLabel: {
      show: true, color: AXC, fontSize: 14, fontFamily: FONT, margin: 6,
      formatter: (v) => (i === 3 && v > 0.45) ? '' : fmt(v)
    },
    splitLine: { show: true, lineStyle: { color: GRIDC, width: 1 } }
  }));
  yAxes.push(Object.assign({}, baseY, {
    position: 'right',
    axisLabel: { show: false },
    splitLine: { show: false }
  }));

  series.push({
    type: 'scatter', xAxisIndex: 2 * i, yAxisIndex: 2 * i,
    data: obsSets[i], symbol: 'circle', symbolSize: 5, silent: true, z: 2,
    itemStyle: { color: 'rgba(255,255,255,0)', borderColor: 'rgba(245,148,85,0.62)', borderWidth: 0.8 }
  });
  modelSets[i].forEach(seg => {
    series.push({
      type: 'line', xAxisIndex: 2 * i, yAxisIndex: 2 * i, data: seg,
      showSymbol: false, smooth: 0.35, silent: true, z: 3,
      lineStyle: { color: '#3a3a3a', width: 1 }
    });
  });

  // y-axis title (rotated)
  graphics.push({
    type: 'text', x: 44, y: gridTops[i] + gridH / 2, rotation: Math.PI / 2,
    style: { text: yNames[i], font: 'bold 15px ' + FONT, fill: '#000', align: 'center', verticalAlign: 'middle' }, z: 10
  });
  graphics.push({
    type: 'text', left: 96, top: gridTops[i] + 8,
    style: { text: panelTitles[i], font: 'bold 15px ' + FONT, fill: '#000' }, z: 10
  });
  graphics.push({
    type: 'rect', shape: { x: 828.5, y: boxTops[i] + 0.5, width: 106, height: 61 },
    style: { fill: '#fff', stroke: AXC, lineWidth: 1 }, z: 10
  });
  graphics.push({
    type: 'text', x: 835, y: boxTops[i] + 8,
    style: {
      text: 'r = ' + statR[i] + '\nmae = ' + statMae[i] + '\nrms = ' + statRms[i],
      font: '13px ' + FONT, fill: '#000', lineHeight: 16, verticalAlign: 'top'
    }, z: 11
  });
}

const chart = echarts.init(document.getElementById('chart'), null, { renderer: 'canvas' });
chart.setOption({
  animation: false,
  backgroundColor: '#fff',
  grid: grids, xAxis: xAxes, yAxis: yAxes, series: series, graphic: graphics
});
</script>
</body>
</html>
